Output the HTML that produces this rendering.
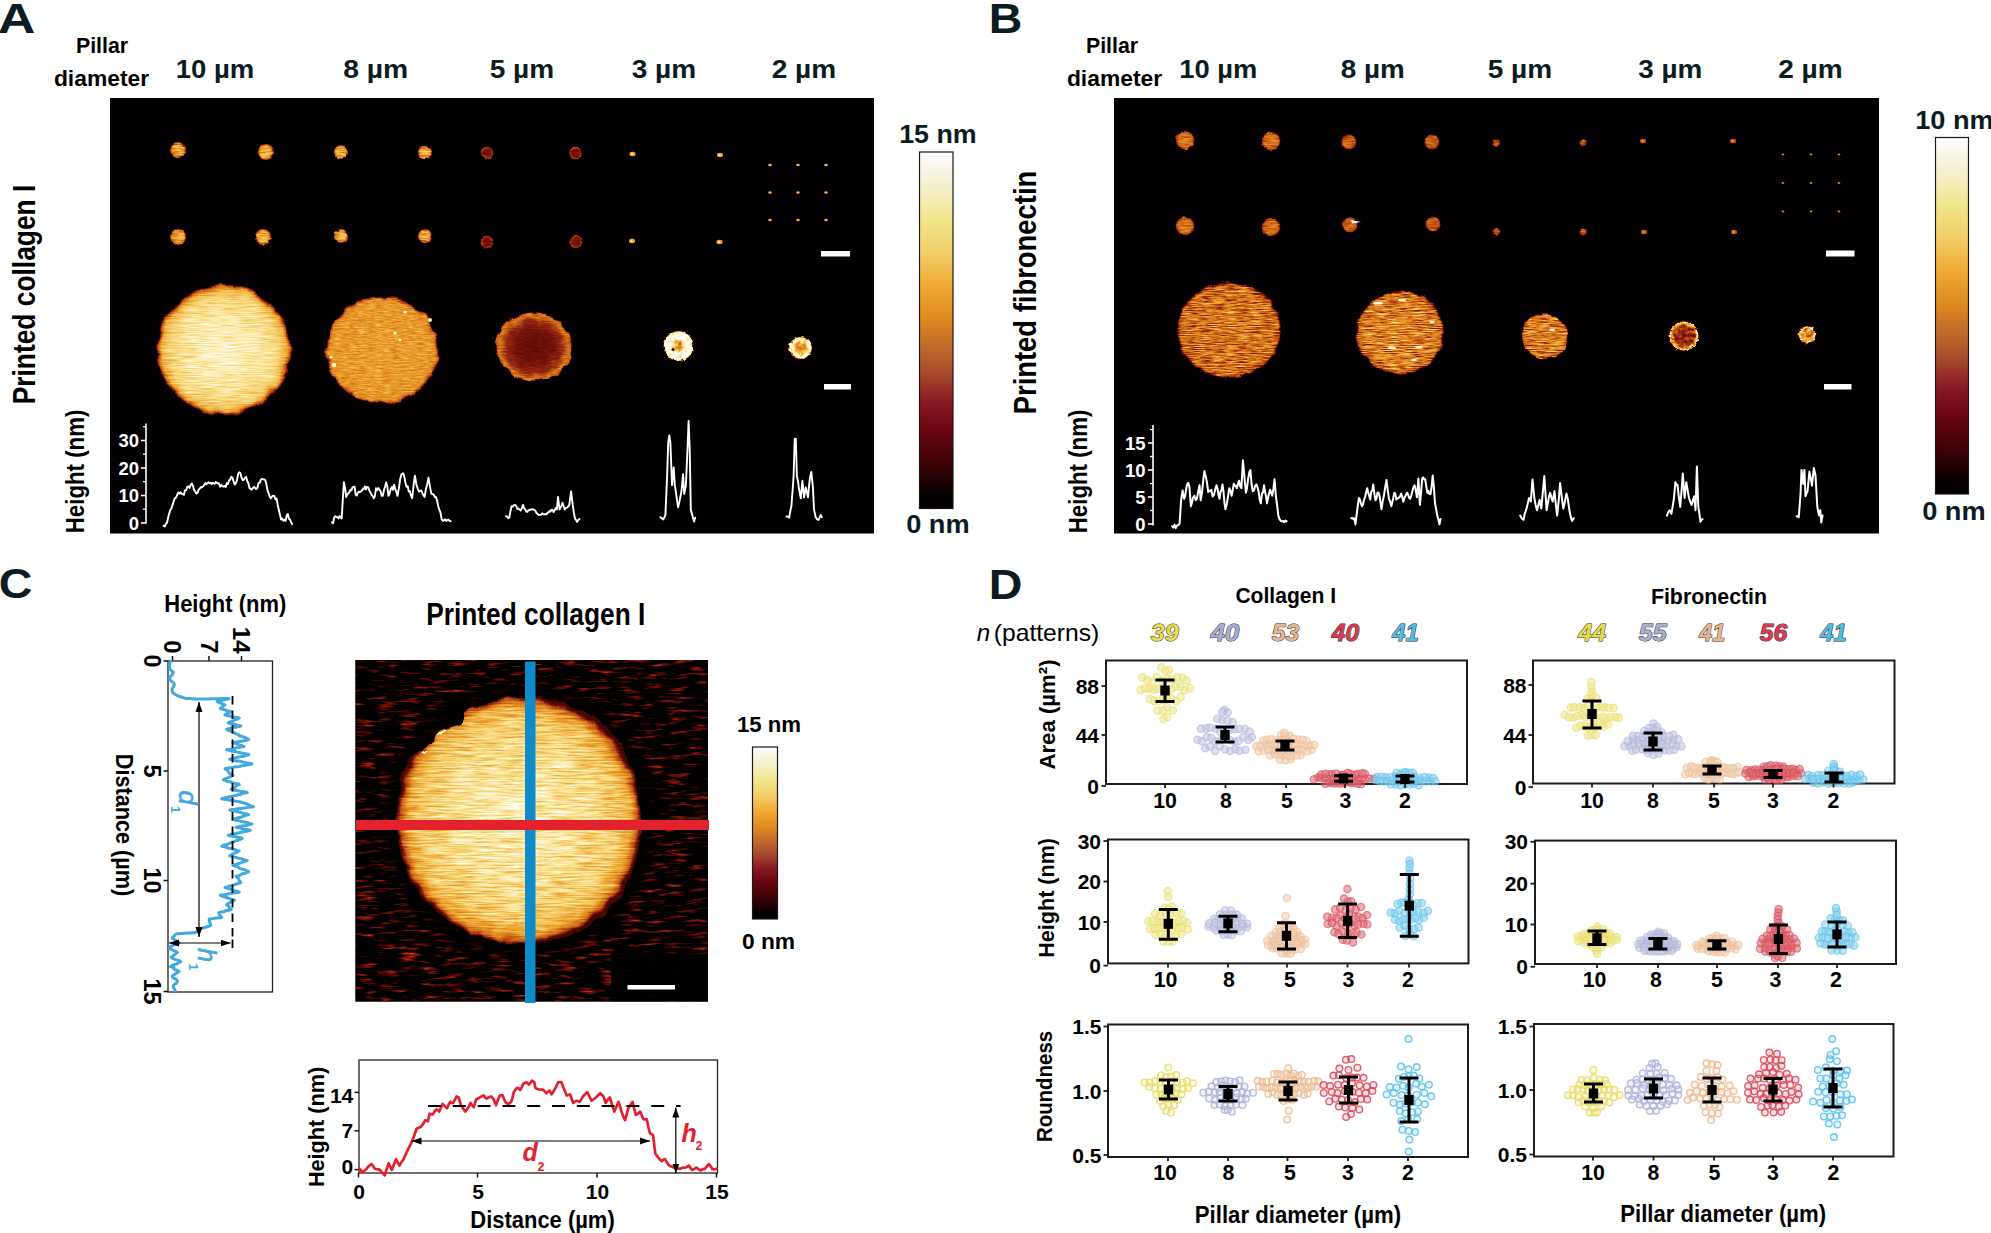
<!DOCTYPE html>
<html lang="en">
<head>
<meta charset="utf-8">
<title>AFM characterisation of printed collagen I and fibronectin patterns</title>
<style>
html,body{margin:0;padding:0;background:#fff;}
body{width:1991px;height:1233px;overflow:hidden;}
svg{display:block;font-family:'Liberation Sans', Arial, Helvetica, sans-serif;}
</style>
</head>
<body>
<svg width="1991" height="1233" viewBox="0 0 1991 1233">
<defs>
<linearGradient id="cmap" x1="0" y1="0" x2="0" y2="1"><stop offset="0" stop-color="#ffffff"/><stop offset="0.05" stop-color="#f8f4e6"/><stop offset="0.12" stop-color="#f5edc0"/><stop offset="0.19" stop-color="#f0e68a"/><stop offset="0.28" stop-color="#f2cf6a"/><stop offset="0.38" stop-color="#f0a830"/><stop offset="0.47" stop-color="#de8820"/><stop offset="0.55" stop-color="#c0682a"/><stop offset="0.62" stop-color="#a84a2c"/><stop offset="0.7" stop-color="#8a1a25"/><stop offset="0.78" stop-color="#6a0512"/><stop offset="0.88" stop-color="#3a0305"/><stop offset="0.96" stop-color="#080000"/><stop offset="1" stop-color="#000000"/></linearGradient>
<filter id="fA" x="-15%" y="-15%" width="130%" height="130%" color-interpolation-filters="sRGB">
<feTurbulence type="fractalNoise" baseFrequency="0.07" numOctaves="2" seed="3" result="dn"/>
<feDisplacementMap in="SourceGraphic" in2="dn" scale="7" xChannelSelector="R" yChannelSelector="G" result="rough"/>
<feTurbulence type="fractalNoise" baseFrequency="0.05 0.9" numOctaves="2" seed="10" result="sn"/>
<feColorMatrix in="sn" type="matrix" values="1.6 0 0 0 -0.3  1.6 0 0 0 -0.3  1.6 0 0 0 -0.3  0 0 0 0 1" result="st"/>
<feComposite in="rough" in2="st" operator="arithmetic" k1="0.3" k2="0.85" k3="0" k4="0" result="tx"/>
<feGaussianBlur in="tx" stdDeviation="0.5"/>
<feComponentTransfer><feFuncR type="table" tableValues="0.000 0.015 0.030 0.098 0.166 0.230 0.280 0.330 0.380 0.429 0.473 0.516 0.560 0.598 0.635 0.673 0.709 0.744 0.780 0.808 0.836 0.864 0.883 0.900 0.917 0.931 0.939 0.947 0.954 0.961 0.967 0.972 0.978 0.982 0.986 0.989 0.993 0.996 1.000 1.000 1.000"/><feFuncG type="table" tableValues="0.000 0.000 0.000 0.007 0.014 0.022 0.032 0.042 0.052 0.064 0.086 0.108 0.130 0.171 0.211 0.252 0.294 0.337 0.380 0.424 0.467 0.511 0.549 0.585 0.621 0.657 0.692 0.727 0.762 0.796 0.823 0.851 0.879 0.901 0.919 0.936 0.949 0.959 0.970 0.985 1.000"/><feFuncB type="table" tableValues="0.000 0.000 0.000 0.004 0.007 0.011 0.016 0.021 0.026 0.032 0.041 0.051 0.060 0.066 0.072 0.079 0.083 0.086 0.090 0.099 0.109 0.118 0.138 0.160 0.182 0.210 0.260 0.310 0.360 0.410 0.460 0.510 0.560 0.614 0.671 0.729 0.780 0.830 0.880 0.940 1.000"/></feComponentTransfer>
</filter>
<filter id="fA8" x="-15%" y="-15%" width="130%" height="130%" color-interpolation-filters="sRGB">
<feTurbulence type="fractalNoise" baseFrequency="0.09" numOctaves="2" seed="4" result="dn"/>
<feDisplacementMap in="SourceGraphic" in2="dn" scale="7" xChannelSelector="R" yChannelSelector="G" result="rough"/>
<feTurbulence type="fractalNoise" baseFrequency="0.12 0.7" numOctaves="3" seed="11" result="sn"/>
<feColorMatrix in="sn" type="matrix" values="1.6 0 0 0 -0.3  1.6 0 0 0 -0.3  1.6 0 0 0 -0.3  0 0 0 0 1" result="st"/>
<feComposite in="rough" in2="st" operator="arithmetic" k1="0.34" k2="0.83" k3="0" k4="0" result="tx"/>
<feGaussianBlur in="tx" stdDeviation="0.5"/>
<feComponentTransfer><feFuncR type="table" tableValues="0.000 0.015 0.030 0.098 0.166 0.230 0.280 0.330 0.380 0.429 0.473 0.516 0.560 0.598 0.635 0.673 0.709 0.744 0.780 0.808 0.836 0.864 0.883 0.900 0.917 0.931 0.939 0.947 0.954 0.961 0.967 0.972 0.978 0.982 0.986 0.989 0.993 0.996 1.000 1.000 1.000"/><feFuncG type="table" tableValues="0.000 0.000 0.000 0.007 0.014 0.022 0.032 0.042 0.052 0.064 0.086 0.108 0.130 0.171 0.211 0.252 0.294 0.337 0.380 0.424 0.467 0.511 0.549 0.585 0.621 0.657 0.692 0.727 0.762 0.796 0.823 0.851 0.879 0.901 0.919 0.936 0.949 0.959 0.970 0.985 1.000"/><feFuncB type="table" tableValues="0.000 0.000 0.000 0.004 0.007 0.011 0.016 0.021 0.026 0.032 0.041 0.051 0.060 0.066 0.072 0.079 0.083 0.086 0.090 0.099 0.109 0.118 0.138 0.160 0.182 0.210 0.260 0.310 0.360 0.410 0.460 0.510 0.560 0.614 0.671 0.729 0.780 0.830 0.880 0.940 1.000"/></feComponentTransfer>
</filter>
<filter id="fB" x="-15%" y="-15%" width="130%" height="130%" color-interpolation-filters="sRGB">
<feTurbulence type="fractalNoise" baseFrequency="0.09" numOctaves="2" seed="11" result="dn"/>
<feDisplacementMap in="SourceGraphic" in2="dn" scale="6" xChannelSelector="R" yChannelSelector="G" result="rough"/>
<feTurbulence type="fractalNoise" baseFrequency="0.08 0.95" numOctaves="3" seed="18" result="sn"/>
<feColorMatrix in="sn" type="matrix" values="1.6 0 0 0 -0.3  1.6 0 0 0 -0.3  1.6 0 0 0 -0.3  0 0 0 0 1" result="st"/>
<feComposite in="rough" in2="st" operator="arithmetic" k1="0.95" k2="0.52" k3="0" k4="0" result="tx"/>
<feGaussianBlur in="tx" stdDeviation="0.4"/>
<feComponentTransfer><feFuncR type="table" tableValues="0.000 0.015 0.030 0.098 0.166 0.230 0.280 0.330 0.380 0.429 0.473 0.516 0.560 0.598 0.635 0.673 0.709 0.744 0.780 0.808 0.836 0.864 0.883 0.900 0.917 0.931 0.939 0.947 0.954 0.961 0.967 0.972 0.978 0.982 0.986 0.989 0.993 0.996 1.000 1.000 1.000"/><feFuncG type="table" tableValues="0.000 0.000 0.000 0.007 0.014 0.022 0.032 0.042 0.052 0.064 0.086 0.108 0.130 0.171 0.211 0.252 0.294 0.337 0.380 0.424 0.467 0.511 0.549 0.585 0.621 0.657 0.692 0.727 0.762 0.796 0.823 0.851 0.879 0.901 0.919 0.936 0.949 0.959 0.970 0.985 1.000"/><feFuncB type="table" tableValues="0.000 0.000 0.000 0.004 0.007 0.011 0.016 0.021 0.026 0.032 0.041 0.051 0.060 0.066 0.072 0.079 0.083 0.086 0.090 0.099 0.109 0.118 0.138 0.160 0.182 0.210 0.260 0.310 0.360 0.410 0.460 0.510 0.560 0.614 0.671 0.729 0.780 0.830 0.880 0.940 1.000"/></feComponentTransfer>
</filter>
<filter id="fS" x="-15%" y="-15%" width="130%" height="130%" color-interpolation-filters="sRGB">
<feTurbulence type="fractalNoise" baseFrequency="0.2" numOctaves="2" seed="5" result="dn"/>
<feDisplacementMap in="SourceGraphic" in2="dn" scale="3" xChannelSelector="R" yChannelSelector="G" result="rough"/>
<feTurbulence type="fractalNoise" baseFrequency="0.1 0.7" numOctaves="2" seed="12" result="sn"/>
<feColorMatrix in="sn" type="matrix" values="1.6 0 0 0 -0.3  1.6 0 0 0 -0.3  1.6 0 0 0 -0.3  0 0 0 0 1" result="st"/>
<feComposite in="rough" in2="st" operator="arithmetic" k1="0.5" k2="0.75" k3="0" k4="0" result="tx"/>
<feGaussianBlur in="tx" stdDeviation="0.45"/>
<feComponentTransfer><feFuncR type="table" tableValues="0.000 0.015 0.030 0.098 0.166 0.230 0.280 0.330 0.380 0.429 0.473 0.516 0.560 0.598 0.635 0.673 0.709 0.744 0.780 0.808 0.836 0.864 0.883 0.900 0.917 0.931 0.939 0.947 0.954 0.961 0.967 0.972 0.978 0.982 0.986 0.989 0.993 0.996 1.000 1.000 1.000"/><feFuncG type="table" tableValues="0.000 0.000 0.000 0.007 0.014 0.022 0.032 0.042 0.052 0.064 0.086 0.108 0.130 0.171 0.211 0.252 0.294 0.337 0.380 0.424 0.467 0.511 0.549 0.585 0.621 0.657 0.692 0.727 0.762 0.796 0.823 0.851 0.879 0.901 0.919 0.936 0.949 0.959 0.970 0.985 1.000"/><feFuncB type="table" tableValues="0.000 0.000 0.000 0.004 0.007 0.011 0.016 0.021 0.026 0.032 0.041 0.051 0.060 0.066 0.072 0.079 0.083 0.086 0.090 0.099 0.109 0.118 0.138 0.160 0.182 0.210 0.260 0.310 0.360 0.410 0.460 0.510 0.560 0.614 0.671 0.729 0.780 0.830 0.880 0.940 1.000"/></feComponentTransfer>
</filter>
<filter id="fI" x="-15%" y="-15%" width="130%" height="130%" color-interpolation-filters="sRGB">
<feTurbulence type="fractalNoise" baseFrequency="0.25" numOctaves="2" seed="8" result="dn"/>
<feDisplacementMap in="SourceGraphic" in2="dn" scale="3.5" xChannelSelector="R" yChannelSelector="G" result="rough"/>
<feTurbulence type="fractalNoise" baseFrequency="0.28 0.32" numOctaves="2" seed="15" result="sn"/>
<feColorMatrix in="sn" type="matrix" values="1.6 0 0 0 -0.3  1.6 0 0 0 -0.3  1.6 0 0 0 -0.3  0 0 0 0 1" result="st"/>
<feComposite in="rough" in2="st" operator="arithmetic" k1="0.85" k2="0.58" k3="0" k4="0" result="tx"/>
<feGaussianBlur in="tx" stdDeviation="0.4"/>
<feComponentTransfer><feFuncR type="table" tableValues="0.000 0.015 0.030 0.098 0.166 0.230 0.280 0.330 0.380 0.429 0.473 0.516 0.560 0.598 0.635 0.673 0.709 0.744 0.780 0.808 0.836 0.864 0.883 0.900 0.917 0.931 0.939 0.947 0.954 0.961 0.967 0.972 0.978 0.982 0.986 0.989 0.993 0.996 1.000 1.000 1.000"/><feFuncG type="table" tableValues="0.000 0.000 0.000 0.007 0.014 0.022 0.032 0.042 0.052 0.064 0.086 0.108 0.130 0.171 0.211 0.252 0.294 0.337 0.380 0.424 0.467 0.511 0.549 0.585 0.621 0.657 0.692 0.727 0.762 0.796 0.823 0.851 0.879 0.901 0.919 0.936 0.949 0.959 0.970 0.985 1.000"/><feFuncB type="table" tableValues="0.000 0.000 0.000 0.004 0.007 0.011 0.016 0.021 0.026 0.032 0.041 0.051 0.060 0.066 0.072 0.079 0.083 0.086 0.090 0.099 0.109 0.118 0.138 0.160 0.182 0.210 0.260 0.310 0.360 0.410 0.460 0.510 0.560 0.614 0.671 0.729 0.780 0.830 0.880 0.940 1.000"/></feComponentTransfer>
</filter>
<filter id="fI2" x="-15%" y="-15%" width="130%" height="130%" color-interpolation-filters="sRGB">
<feTurbulence type="fractalNoise" baseFrequency="0.25" numOctaves="2" seed="9" result="dn"/>
<feDisplacementMap in="SourceGraphic" in2="dn" scale="3.5" xChannelSelector="R" yChannelSelector="G" result="rough"/>
<feTurbulence type="fractalNoise" baseFrequency="0.28 0.32" numOctaves="2" seed="16" result="sn"/>
<feColorMatrix in="sn" type="matrix" values="1.6 0 0 0 -0.3  1.6 0 0 0 -0.3  1.6 0 0 0 -0.3  0 0 0 0 1" result="st"/>
<feComposite in="rough" in2="st" operator="arithmetic" k1="0.45" k2="0.78" k3="0" k4="0" result="tx"/>
<feGaussianBlur in="tx" stdDeviation="0.4"/>
<feComponentTransfer><feFuncR type="table" tableValues="0.000 0.015 0.030 0.098 0.166 0.230 0.280 0.330 0.380 0.429 0.473 0.516 0.560 0.598 0.635 0.673 0.709 0.744 0.780 0.808 0.836 0.864 0.883 0.900 0.917 0.931 0.939 0.947 0.954 0.961 0.967 0.972 0.978 0.982 0.986 0.989 0.993 0.996 1.000 1.000 1.000"/><feFuncG type="table" tableValues="0.000 0.000 0.000 0.007 0.014 0.022 0.032 0.042 0.052 0.064 0.086 0.108 0.130 0.171 0.211 0.252 0.294 0.337 0.380 0.424 0.467 0.511 0.549 0.585 0.621 0.657 0.692 0.727 0.762 0.796 0.823 0.851 0.879 0.901 0.919 0.936 0.949 0.959 0.970 0.985 1.000"/><feFuncB type="table" tableValues="0.000 0.000 0.000 0.004 0.007 0.011 0.016 0.021 0.026 0.032 0.041 0.051 0.060 0.066 0.072 0.079 0.083 0.086 0.090 0.099 0.109 0.118 0.138 0.160 0.182 0.210 0.260 0.310 0.360 0.410 0.460 0.510 0.560 0.614 0.671 0.729 0.780 0.830 0.880 0.940 1.000"/></feComponentTransfer>
</filter>
<filter id="fC" x="-15%" y="-15%" width="130%" height="130%" color-interpolation-filters="sRGB">
<feTurbulence type="fractalNoise" baseFrequency="0.06" numOctaves="2" seed="21" result="dn"/>
<feDisplacementMap in="SourceGraphic" in2="dn" scale="8" xChannelSelector="R" yChannelSelector="G" result="rough"/>
<feTurbulence type="fractalNoise" baseFrequency="0.04 0.6" numOctaves="3" seed="28" result="sn"/>
<feColorMatrix in="sn" type="matrix" values="1.6 0 0 0 -0.3  1.6 0 0 0 -0.3  1.6 0 0 0 -0.3  0 0 0 0 1" result="st"/>
<feComposite in="rough" in2="st" operator="arithmetic" k1="0.42" k2="0.79" k3="0" k4="0" result="tx"/>
<feGaussianBlur in="tx" stdDeviation="0.55"/>
<feComponentTransfer><feFuncR type="table" tableValues="0.000 0.015 0.030 0.098 0.166 0.230 0.280 0.330 0.380 0.429 0.473 0.516 0.560 0.598 0.635 0.673 0.709 0.744 0.780 0.808 0.836 0.864 0.883 0.900 0.917 0.931 0.939 0.947 0.954 0.961 0.967 0.972 0.978 0.982 0.986 0.989 0.993 0.996 1.000 1.000 1.000"/><feFuncG type="table" tableValues="0.000 0.000 0.000 0.007 0.014 0.022 0.032 0.042 0.052 0.064 0.086 0.108 0.130 0.171 0.211 0.252 0.294 0.337 0.380 0.424 0.467 0.511 0.549 0.585 0.621 0.657 0.692 0.727 0.762 0.796 0.823 0.851 0.879 0.901 0.919 0.936 0.949 0.959 0.970 0.985 1.000"/><feFuncB type="table" tableValues="0.000 0.000 0.000 0.004 0.007 0.011 0.016 0.021 0.026 0.032 0.041 0.051 0.060 0.066 0.072 0.079 0.083 0.086 0.090 0.099 0.109 0.118 0.138 0.160 0.182 0.210 0.260 0.310 0.360 0.410 0.460 0.510 0.560 0.614 0.671 0.729 0.780 0.830 0.880 0.940 1.000"/></feComponentTransfer>
</filter>
<filter id="bgC" x="0" y="0" width="100%" height="100%" color-interpolation-filters="sRGB">
<feTurbulence type="fractalNoise" baseFrequency="0.045 0.3" numOctaves="3" seed="9" result="n"/>
<feColorMatrix in="n" type="matrix" values="1.05 0 0 0 -0.525  1.05 0 0 0 -0.525  1.05 0 0 0 -0.525  0 0 0 0 1"/>
<feComponentTransfer><feFuncR type="table" tableValues="0.000 0.015 0.030 0.098 0.166 0.230 0.280 0.330 0.380 0.429 0.473 0.516 0.560 0.598 0.635 0.673 0.709 0.744 0.780 0.808 0.836 0.864 0.883 0.900 0.917 0.931 0.939 0.947 0.954 0.961 0.967 0.972 0.978 0.982 0.986 0.989 0.993 0.996 1.000 1.000 1.000"/><feFuncG type="table" tableValues="0.000 0.000 0.000 0.007 0.014 0.022 0.032 0.042 0.052 0.064 0.086 0.108 0.130 0.171 0.211 0.252 0.294 0.337 0.380 0.424 0.467 0.511 0.549 0.585 0.621 0.657 0.692 0.727 0.762 0.796 0.823 0.851 0.879 0.901 0.919 0.936 0.949 0.959 0.970 0.985 1.000"/><feFuncB type="table" tableValues="0.000 0.000 0.000 0.004 0.007 0.011 0.016 0.021 0.026 0.032 0.041 0.051 0.060 0.066 0.072 0.079 0.083 0.086 0.090 0.099 0.109 0.118 0.138 0.160 0.182 0.210 0.260 0.310 0.360 0.410 0.460 0.510 0.560 0.614 0.671 0.729 0.780 0.830 0.880 0.940 1.000"/></feComponentTransfer>
</filter>
<filter id="halo" x="-20%" y="-20%" width="140%" height="140%"><feGaussianBlur stdDeviation="5"/></filter>
<filter id="b1" x="-30%" y="-30%" width="160%" height="160%"><feGaussianBlur stdDeviation="0.7"/></filter>
<filter id="b3" x="-30%" y="-30%" width="160%" height="160%"><feGaussianBlur stdDeviation="2.5"/></filter>
<radialGradient id="gA10" cx="50%" cy="50%" r="50%"><stop offset="0" stop-color="#e6e6e6"/><stop offset="0.3" stop-color="#dedede"/><stop offset="0.6" stop-color="#d1d1d1"/><stop offset="0.82" stop-color="#bfbfbf"/><stop offset="0.92" stop-color="#a6a6a6"/><stop offset="0.97" stop-color="#6b6b6b"/><stop offset="1" stop-color="#262626"/></radialGradient>
<radialGradient id="gA8" cx="50%" cy="50%" r="50%"><stop offset="0" stop-color="#999999"/><stop offset="0.8" stop-color="#969696"/><stop offset="0.93" stop-color="#919191"/><stop offset="0.975" stop-color="#6b6b6b"/><stop offset="1" stop-color="#262626"/></radialGradient>
<radialGradient id="gA5" cx="50%" cy="50%" r="50%"><stop offset="0" stop-color="#333333"/><stop offset="0.5" stop-color="#3d3d3d"/><stop offset="0.75" stop-color="#525252"/><stop offset="0.9" stop-color="#808080"/><stop offset="0.97" stop-color="#757575"/><stop offset="1" stop-color="#262626"/></radialGradient>
<radialGradient id="gA3" cx="50%" cy="50%" r="50%"><stop offset="0" stop-color="#8c8c8c"/><stop offset="0.28" stop-color="#a8a8a8"/><stop offset="0.5" stop-color="#ededed"/><stop offset="0.85" stop-color="#ffffff"/><stop offset="0.95" stop-color="#d9d9d9"/><stop offset="1" stop-color="#666666"/></radialGradient>
<radialGradient id="gA2" cx="50%" cy="50%" r="50%"><stop offset="0" stop-color="#8c8c8c"/><stop offset="0.4" stop-color="#999999"/><stop offset="0.68" stop-color="#dbdbdb"/><stop offset="0.9" stop-color="#ededed"/><stop offset="1" stop-color="#737373"/></radialGradient>
<radialGradient id="gB" cx="50%" cy="50%" r="50%"><stop offset="0" stop-color="#808080"/><stop offset="0.85" stop-color="#7d7d7d"/><stop offset="0.95" stop-color="#737373"/><stop offset="1" stop-color="#262626"/></radialGradient>
<radialGradient id="gB8" cx="50%" cy="50%" r="50%"><stop offset="0" stop-color="#878787"/><stop offset="0.85" stop-color="#858585"/><stop offset="0.95" stop-color="#787878"/><stop offset="1" stop-color="#262626"/></radialGradient>
<radialGradient id="gB3" cx="50%" cy="50%" r="50%"><stop offset="0" stop-color="#4c4c4c"/><stop offset="0.7" stop-color="#575757"/><stop offset="0.88" stop-color="#a8a8a8"/><stop offset="0.96" stop-color="#d9d9d9"/><stop offset="1" stop-color="#4c4c4c"/></radialGradient>
<radialGradient id="gB2" cx="50%" cy="50%" r="50%"><stop offset="0" stop-color="#808080"/><stop offset="0.65" stop-color="#949494"/><stop offset="0.9" stop-color="#bdbdbd"/><stop offset="1" stop-color="#4c4c4c"/></radialGradient>
<radialGradient id="gC" cx="50%" cy="50%" r="50%"><stop offset="0" stop-color="#e0e0e0"/><stop offset="0.3" stop-color="#d6d6d6"/><stop offset="0.6" stop-color="#c7c7c7"/><stop offset="0.82" stop-color="#b8b8b8"/><stop offset="0.92" stop-color="#9e9e9e"/><stop offset="0.97" stop-color="#707070"/><stop offset="1" stop-color="#262626"/></radialGradient>
<radialGradient id="gdot" cx="50%" cy="50%" r="50%"><stop offset="0" stop-color="#adadad"/><stop offset="0.7" stop-color="#999999"/><stop offset="1" stop-color="#616161"/></radialGradient>
<radialGradient id="gdotB" cx="50%" cy="50%" r="50%"><stop offset="0" stop-color="#808080"/><stop offset="0.75" stop-color="#7a7a7a"/><stop offset="1" stop-color="#4c4c4c"/></radialGradient>
<radialGradient id="gdotB5" cx="50%" cy="50%" r="50%"><stop offset="0" stop-color="#757575"/><stop offset="0.7" stop-color="#6b6b6b"/><stop offset="1" stop-color="#474747"/></radialGradient>
<radialGradient id="gdotB8" cx="50%" cy="50%" r="50%"><stop offset="0" stop-color="#757575"/><stop offset="0.75" stop-color="#707070"/><stop offset="1" stop-color="#474747"/></radialGradient>
<radialGradient id="gdotR" cx="50%" cy="50%" r="50%"><stop offset="0" stop-color="#383838"/><stop offset="0.6" stop-color="#3d3d3d"/><stop offset="0.85" stop-color="#5c5c5c"/><stop offset="1" stop-color="#333333"/></radialGradient>
<marker id="ah" viewBox="0 0 10 8" refX="10" refY="4" markerWidth="10" markerHeight="8" markerUnits="userSpaceOnUse" orient="auto-start-reverse"><path d="M0 0.5 L10 4 L0 7.5z" fill="#000"/></marker>
</defs>
<rect width="1991" height="1233" fill="#fff"/>
<g id="panelA">
<rect x="110" y="98" width="764" height="435.5" fill="#020002"/>
<text x="75.9" y="53" font-size="22.5" font-weight="bold" fill="#000" textLength="52.2" lengthAdjust="spacingAndGlyphs" >Pillar</text>
<text x="53.9" y="86" font-size="22.5" font-weight="bold" fill="#000" textLength="95.2" lengthAdjust="spacingAndGlyphs" >diameter</text>
<text x="175.7" y="77.5" font-size="25.5" font-weight="bold" fill="#0b1c22" textLength="78.5" lengthAdjust="spacingAndGlyphs" >10 µm</text>
<text x="343.2" y="77.5" font-size="25.5" font-weight="bold" fill="#0b1c22" textLength="65.0" lengthAdjust="spacingAndGlyphs" >8 µm</text>
<text x="489.7" y="77.5" font-size="25.5" font-weight="bold" fill="#0b1c22" textLength="64.5" lengthAdjust="spacingAndGlyphs" >5 µm</text>
<text x="631.7" y="77.5" font-size="25.5" font-weight="bold" fill="#0b1c22" textLength="64.5" lengthAdjust="spacingAndGlyphs" >3 µm</text>
<text x="771.7" y="77.5" font-size="25.5" font-weight="bold" fill="#0b1c22" textLength="64.5" lengthAdjust="spacingAndGlyphs" >2 µm</text>
<text x="-1.3" font-size="32" font-weight="bold" fill="#000" textLength="219.6" lengthAdjust="spacingAndGlyphs" transform="translate(35,403) rotate(-90)" >Printed collagen I</text>
<text x="-1.2" font-size="25" font-weight="bold" fill="#000" textLength="123.5" lengthAdjust="spacingAndGlyphs" transform="translate(84,532) rotate(-90)" >Height (nm)</text>
<text x="899.2" y="143" font-size="25.5" font-weight="bold" fill="#0b1c22" textLength="77.5" lengthAdjust="spacingAndGlyphs" >15 nm</text>
<rect x="919.5" y="152" width="33.5" height="356.5" fill="url(#cmap)" stroke="#1a1a1a" stroke-width="1.2"/>
<text x="906.2" y="533" font-size="25.5" font-weight="bold" fill="#0b1c22" textLength="63.5" lengthAdjust="spacingAndGlyphs" >0 nm</text>
<circle cx="178" cy="150" r="8" fill="url(#gdot)" filter="url(#fS)"/>
<circle cx="266" cy="152" r="8" fill="url(#gdot)" filter="url(#fS)"/>
<circle cx="178" cy="237" r="8" fill="url(#gdot)" filter="url(#fS)"/>
<circle cx="263" cy="237" r="8" fill="url(#gdot)" filter="url(#fS)"/>
<circle cx="341" cy="152" r="7" fill="url(#gdot)" filter="url(#fS)"/>
<circle cx="425" cy="152.5" r="7" fill="url(#gdot)" filter="url(#fS)"/>
<circle cx="341" cy="236" r="7" fill="url(#gdot)" filter="url(#fS)"/>
<circle cx="425" cy="236" r="7" fill="url(#gdot)" filter="url(#fS)"/>
<circle cx="487" cy="153" r="6.5" fill="url(#gdotR)" filter="url(#fS)"/>
<circle cx="575.5" cy="153" r="6.5" fill="url(#gdotR)" filter="url(#fS)"/>
<circle cx="487" cy="242" r="6.5" fill="url(#gdotR)" filter="url(#fS)"/>
<circle cx="576" cy="242" r="6.5" fill="url(#gdotR)" filter="url(#fS)"/>
<ellipse cx="632.5" cy="154" rx="3.08" ry="2.2" fill="#f0a030" filter="url(#b1)"/>
<circle cx="632.0" cy="154" r="0.9900000000000001" fill="#fff0b0"/>
<ellipse cx="720" cy="155" rx="3.08" ry="2.2" fill="#f0a030" filter="url(#b1)"/>
<circle cx="719.5" cy="155" r="0.9900000000000001" fill="#fff0b0"/>
<ellipse cx="632" cy="241" rx="3.08" ry="2.2" fill="#f0a030" filter="url(#b1)"/>
<circle cx="631.5" cy="241" r="0.9900000000000001" fill="#fff0b0"/>
<ellipse cx="719.5" cy="242" rx="3.08" ry="2.2" fill="#f0a030" filter="url(#b1)"/>
<circle cx="719.0" cy="242" r="0.9900000000000001" fill="#fff0b0"/>
<ellipse cx="770" cy="165" rx="1.8199999999999998" ry="1.3" fill="#f0a030" filter="url(#b1)"/>
<circle cx="769.5" cy="165" r="0.5850000000000001" fill="#fff0b0"/>
<ellipse cx="770" cy="192.5" rx="1.8199999999999998" ry="1.3" fill="#f0a030" filter="url(#b1)"/>
<circle cx="769.5" cy="192.5" r="0.5850000000000001" fill="#fff0b0"/>
<ellipse cx="770" cy="220" rx="1.8199999999999998" ry="1.3" fill="#f0a030" filter="url(#b1)"/>
<circle cx="769.5" cy="220" r="0.5850000000000001" fill="#fff0b0"/>
<ellipse cx="798" cy="165" rx="1.8199999999999998" ry="1.3" fill="#f0a030" filter="url(#b1)"/>
<circle cx="797.5" cy="165" r="0.5850000000000001" fill="#fff0b0"/>
<ellipse cx="798" cy="192.5" rx="1.8199999999999998" ry="1.3" fill="#f0a030" filter="url(#b1)"/>
<circle cx="797.5" cy="192.5" r="0.5850000000000001" fill="#fff0b0"/>
<ellipse cx="798" cy="220" rx="1.8199999999999998" ry="1.3" fill="#f0a030" filter="url(#b1)"/>
<circle cx="797.5" cy="220" r="0.5850000000000001" fill="#fff0b0"/>
<ellipse cx="826" cy="165" rx="1.8199999999999998" ry="1.3" fill="#f0a030" filter="url(#b1)"/>
<circle cx="825.5" cy="165" r="0.5850000000000001" fill="#fff0b0"/>
<ellipse cx="826" cy="192.5" rx="1.8199999999999998" ry="1.3" fill="#f0a030" filter="url(#b1)"/>
<circle cx="825.5" cy="192.5" r="0.5850000000000001" fill="#fff0b0"/>
<ellipse cx="826" cy="220" rx="1.8199999999999998" ry="1.3" fill="#f0a030" filter="url(#b1)"/>
<circle cx="825.5" cy="220" r="0.5850000000000001" fill="#fff0b0"/>
<rect x="821" y="251" width="29" height="5.5" fill="#fff"/>
<ellipse cx="224" cy="350" rx="67" ry="65.5" fill="url(#gA10)" filter="url(#fA)"/>
<ellipse cx="382" cy="350" rx="56.5" ry="54" fill="url(#gA8)" filter="url(#fA8)"/>
<ellipse cx="534" cy="347" rx="38" ry="35" fill="url(#gA5)" filter="url(#fA8)"/>
<ellipse cx="678.5" cy="346" rx="15" ry="15" fill="url(#gA3)" filter="url(#fI2)"/>
<circle cx="673" cy="349.5" r="1.5" fill="#3a0800"/><circle cx="680" cy="344" r="1.2" fill="#a8501a"/>
<ellipse cx="800.5" cy="348" rx="11.5" ry="11" fill="url(#gA2)" filter="url(#fI2)"/>
<circle cx="334" cy="365" r="2.2" fill="#fff3c8" filter="url(#b1)"/>
<circle cx="331" cy="357" r="1.6" fill="#fff3c8" filter="url(#b1)"/>
<circle cx="430" cy="320" r="2" fill="#fff3c8" filter="url(#b1)"/>
<circle cx="405" cy="312" r="1.6" fill="#fff3c8" filter="url(#b1)"/>
<circle cx="395" cy="333" r="1.8" fill="#fff3c8" filter="url(#b1)"/>
<circle cx="400" cy="340" r="1.4" fill="#fff3c8" filter="url(#b1)"/>
<rect x="824" y="384" width="27" height="5.5" fill="#fff"/>
<path d="M146 423.5V523.5" stroke="#fff" stroke-width="1.6" fill="none"/>
<path d="M141 440.5H146" stroke="#fff" stroke-width="1.6"/>
<text x="139.0" y="447.0" font-size="18.5" font-weight="bold" fill="#fff" text-anchor="end" >30</text>
<path d="M141 468H146" stroke="#fff" stroke-width="1.6"/>
<text x="139.0" y="474.5" font-size="18.5" font-weight="bold" fill="#fff" text-anchor="end" >20</text>
<path d="M141 495.5H146" stroke="#fff" stroke-width="1.6"/>
<text x="139.0" y="502.0" font-size="18.5" font-weight="bold" fill="#fff" text-anchor="end" >10</text>
<path d="M141 523H146" stroke="#fff" stroke-width="1.6"/>
<text x="139.0" y="529.5" font-size="18.5" font-weight="bold" fill="#fff" text-anchor="end" >0</text>
<path d="M143 426.7H146" stroke="#fff" stroke-width="1.3"/>
<path d="M143 454.2H146" stroke="#fff" stroke-width="1.3"/>
<path d="M143 481.7H146" stroke="#fff" stroke-width="1.3"/>
<path d="M143 509.2H146" stroke="#fff" stroke-width="1.3"/>
<path d="M163.6 525.7 L164.7 526.5 L165.8 524.2 L167.0 522.7 L168.1 517.8 L169.2 513.6 L170.3 510.0 L171.5 508.2 L172.6 504.9 L173.7 501.2 L174.9 498.2 L176.0 497.7 L177.1 495.2 L178.3 492.5 L179.4 493.6 L180.5 492.3 L181.6 493.9 L182.8 494.2 L183.9 494.8 L185.0 490.3 L186.2 490.1 L187.3 486.9 L188.4 486.4 L189.6 488.0 L190.7 484.6 L191.8 483.5 L192.9 485.8 L194.1 490.0 L195.2 491.3 L196.3 493.6 L197.5 493.0 L198.6 489.8 L199.7 488.8 L200.9 486.9 L202.0 487.4 L203.1 486.4 L204.2 485.1 L205.4 483.0 L206.5 484.2 L207.6 483.1 L208.8 482.3 L209.8 483.3 L210.8 482.8 L211.8 484.0 L212.8 482.8 L213.8 483.2 L214.8 483.9 L215.8 481.9 L216.8 482.9 L217.8 483.5 L218.9 483.3 L220.1 486.8 L221.2 484.8 L222.3 486.2 L223.5 486.6 L224.6 486.0 L225.7 486.9 L226.9 483.0 L228.0 483.9 L229.1 480.3 L230.2 479.6 L231.4 476.7 L232.5 477.8 L233.6 481.4 L234.8 484.6 L235.9 483.0 L237.0 480.1 L238.2 473.7 L239.3 472.2 L240.4 473.2 L241.5 477.4 L242.7 480.1 L243.8 479.8 L244.9 478.0 L246.1 476.7 L247.2 480.8 L248.3 483.0 L249.5 488.0 L250.6 488.9 L251.7 489.7 L252.8 488.0 L254.0 487.0 L255.1 488.0 L256.2 489.1 L257.4 488.0 L258.5 483.0 L259.6 482.9 L260.8 479.8 L261.9 478.9 L263.0 479.2 L264.2 479.4 L265.3 480.1 L266.4 484.3 L267.5 490.4 L268.7 493.3 L269.8 497.0 L270.9 498.3 L272.1 496.3 L273.2 495.6 L274.3 495.9 L275.5 499.4 L276.6 498.5 L277.7 504.9 L278.8 509.8 L280.0 514.9 L281.1 519.6 L282.2 518.4 L283.4 520.8 L284.5 519.8 L285.6 520.8 L286.8 515.1 L287.8 514.0 L288.8 518.5 L289.9 519.4 L290.9 521.7 L292.0 524.2" fill="none" stroke="#fff" stroke-width="1.9" stroke-linejoin="round" stroke-linecap="round"/>
<path d="M332.0 522.3 L333.1 523.3 L334.2 517.4 L335.4 516.2 L336.4 517.1 L337.5 517.2 L338.5 518.5 L339.6 515.9 L340.6 517.6 L341.7 518.5 L342.8 499.4 L343.9 482.3 L345.1 488.3 L346.2 497.0 L347.2 494.5 L348.3 493.5 L349.3 492.3 L350.3 490.0 L351.4 490.3 L352.4 487.6 L353.4 486.9 L354.6 486.7 L355.7 494.8 L356.7 495.6 L357.8 492.8 L358.8 491.6 L359.8 492.2 L360.8 491.5 L361.9 490.5 L362.9 488.6 L363.9 489.3 L364.9 486.3 L366.0 489.4 L367.0 486.9 L368.1 487.1 L369.3 490.4 L370.4 492.5 L371.5 494.7 L372.6 496.0 L373.8 498.2 L374.9 496.2 L376.0 488.3 L377.2 490.2 L378.3 488.0 L379.4 489.6 L380.6 491.2 L381.7 495.7 L382.8 495.9 L384.0 489.9 L385.1 486.6 L386.2 482.3 L387.3 486.3 L388.5 495.9 L389.6 493.8 L390.7 489.1 L391.9 486.9 L393.0 489.8 L394.1 484.6 L395.3 489.1 L396.4 491.9 L397.5 495.9 L398.8 488.8 L400.1 479.5 L401.4 474.4 L403.2 473.3 L404.3 476.3 L405.4 482.7 L406.6 486.9 L407.7 486.2 L408.8 491.6 L409.9 491.2 L411.1 495.9 L412.2 498.2 L413.6 485.2 L414.9 475.6 L416.4 484.5 L417.9 489.1 L419.0 491.6 L420.1 490.9 L421.2 490.4 L422.4 493.2 L423.5 495.5 L424.6 497.0 L425.9 489.1 L427.2 484.4 L428.5 477.8 L430.0 486.9 L431.4 493.6 L432.5 494.2 L433.7 494.6 L434.8 497.0 L435.9 497.0 L437.1 500.6 L438.2 506.3 L439.3 509.5 L440.5 512.6 L441.6 519.0 L442.7 520.8 L443.9 520.3 L445.0 519.3 L446.1 520.9 L447.2 520.0 L448.4 519.7 L449.5 520.8 L450.6 521.2" fill="none" stroke="#fff" stroke-width="1.9" stroke-linejoin="round" stroke-linecap="round"/>
<path d="M506.0 516.2 L507.1 516.7 L508.3 518.1 L509.4 517.4 L510.5 510.9 L511.7 506.1 L512.8 506.6 L513.9 505.1 L515.1 504.9 L516.2 505.8 L517.3 508.9 L518.4 508.5 L519.6 509.4 L520.7 510.6 L521.8 508.4 L523.0 504.9 L524.1 508.2 L525.2 509.4 L526.4 511.7 L527.5 511.8 L528.6 509.9 L529.7 510.0 L530.9 509.5 L532.0 509.5 L533.1 509.2 L534.3 510.0 L535.4 510.8 L536.5 513.0 L537.7 514.0 L538.8 515.1 L539.9 514.6 L541.0 514.8 L542.2 513.3 L543.3 514.3 L544.4 514.4 L545.6 514.0 L546.6 514.3 L547.6 512.5 L548.6 512.5 L549.6 510.7 L550.6 511.6 L551.6 509.7 L552.6 510.1 L553.6 512.0 L554.6 510.6 L555.7 508.0 L556.9 509.5 L558.0 497.0 L559.6 509.5 L561.1 506.8 L562.5 502.7 L563.7 506.4 L564.8 509.5 L565.9 508.0 L567.0 507.6 L568.2 506.5 L569.3 504.9 L571.1 491.4 L572.7 504.9 L573.8 512.7 L575.0 518.5 L576.1 520.0 L577.2 521.9 L578.3 519.9 L579.5 519.0" fill="none" stroke="#fff" stroke-width="1.9" stroke-linejoin="round" stroke-linecap="round"/>
<path d="M660.4 517.2 L661.8 518.3 L663.2 519.4 L664.3 517.5 L665.4 515.0 L667.1 476.3 L668.2 443.1 L669.3 435.4 L670.4 443.1 L672.0 485.1 L673.7 467.5 L674.8 485.1 L675.9 492.2 L677.0 500.1 L678.1 507.2 L679.2 502.6 L680.3 497.2 L681.4 491.8 L683.1 474.1 L684.2 494.0 L685.9 485.1 L687.5 448.7 L688.6 421.0 L689.7 448.7 L690.8 509.4 L692.5 516.1 L694.1 521.6 L695.2 517.7" fill="none" stroke="#fff" stroke-width="1.9" stroke-linejoin="round" stroke-linecap="round"/>
<path d="M786.4 516.6 L787.8 516.4 L789.2 517.7 L790.3 511.1 L791.4 506.1 L792.5 491.7 L793.6 476.3 L794.7 438.7 L795.8 438.7 L796.9 476.3 L798.0 481.3 L799.1 489.6 L800.8 498.4 L802.4 480.7 L804.1 497.3 L805.7 487.3 L806.9 492.2 L808.0 497.3 L809.1 485.2 L810.2 476.3 L811.3 471.9 L812.9 487.3 L814.0 509.4 L815.7 517.2 L817.1 519.3 L818.5 519.9 L819.6 517.6 L820.7 515.0 L821.8 517.2" fill="none" stroke="#fff" stroke-width="1.9" stroke-linejoin="round" stroke-linecap="round"/>
</g>
<g id="panelB">
<rect x="1114" y="98" width="765" height="435.5" fill="#020002"/>
<text x="1085.9" y="53" font-size="22.5" font-weight="bold" fill="#000" textLength="52.2" lengthAdjust="spacingAndGlyphs" >Pillar</text>
<text x="1066.9" y="86" font-size="22.5" font-weight="bold" fill="#000" textLength="95.2" lengthAdjust="spacingAndGlyphs" >diameter</text>
<text x="1179.2" y="77.5" font-size="25.5" font-weight="bold" fill="#0b1c22" textLength="78.0" lengthAdjust="spacingAndGlyphs" >10 µm</text>
<text x="1340.7" y="77.5" font-size="25.5" font-weight="bold" fill="#0b1c22" textLength="64.0" lengthAdjust="spacingAndGlyphs" >8 µm</text>
<text x="1487.7" y="77.5" font-size="25.5" font-weight="bold" fill="#0b1c22" textLength="64.5" lengthAdjust="spacingAndGlyphs" >5 µm</text>
<text x="1638.2" y="77.5" font-size="25.5" font-weight="bold" fill="#0b1c22" textLength="64.0" lengthAdjust="spacingAndGlyphs" >3 µm</text>
<text x="1778.2" y="77.5" font-size="25.5" font-weight="bold" fill="#0b1c22" textLength="64.5" lengthAdjust="spacingAndGlyphs" >2 µm</text>
<text x="-1.3" font-size="32" font-weight="bold" fill="#000" textLength="243.6" lengthAdjust="spacingAndGlyphs" transform="translate(1036,413) rotate(-90)" >Printed fibronectin</text>
<text x="-1.2" font-size="25" font-weight="bold" fill="#000" textLength="123.5" lengthAdjust="spacingAndGlyphs" transform="translate(1087,532) rotate(-90)" >Height (nm)</text>
<text x="1915.2" y="129" font-size="25.5" font-weight="bold" fill="#0b1c22" textLength="78.5" lengthAdjust="spacingAndGlyphs" >10 nm</text>
<rect x="1935.5" y="137.5" width="33.0" height="356.5" fill="url(#cmap)" stroke="#1a1a1a" stroke-width="1.2"/>
<text x="1922.2" y="520" font-size="25.5" font-weight="bold" fill="#0b1c22" textLength="63.5" lengthAdjust="spacingAndGlyphs" >0 nm</text>
<circle cx="1185" cy="140" r="9.3" fill="url(#gdotB)" filter="url(#fS)"/>
<circle cx="1271" cy="141" r="9.3" fill="url(#gdotB)" filter="url(#fS)"/>
<circle cx="1185" cy="226" r="9.3" fill="url(#gdotB)" filter="url(#fS)"/>
<circle cx="1271" cy="227" r="9.3" fill="url(#gdotB)" filter="url(#fS)"/>
<circle cx="1349" cy="142" r="7.6" fill="url(#gdotB8)" filter="url(#fS)"/>
<circle cx="1432" cy="142" r="7.6" fill="url(#gdotB8)" filter="url(#fS)"/>
<circle cx="1350" cy="225" r="7.6" fill="url(#gdotB8)" filter="url(#fS)"/>
<circle cx="1433" cy="224" r="7.6" fill="url(#gdotB8)" filter="url(#fS)"/>
<circle cx="1496.5" cy="142.5" r="3.6" fill="url(#gdotB5)" filter="url(#fS)"/>
<circle cx="1583" cy="142.5" r="3.6" fill="url(#gdotB5)" filter="url(#fS)"/>
<circle cx="1496.5" cy="231.5" r="3.6" fill="url(#gdotB5)" filter="url(#fS)"/>
<circle cx="1583" cy="232" r="3.6" fill="url(#gdotB5)" filter="url(#fS)"/>
<path d="M1351 220l10 2l-9 1.5z" fill="#fff" filter="url(#b1)"/>
<ellipse cx="1643" cy="141" rx="3.08" ry="2.2" fill="#c8501a" filter="url(#b1)"/>
<circle cx="1642.5" cy="141" r="0.9900000000000001" fill="#f0b050"/>
<ellipse cx="1733" cy="141" rx="3.08" ry="2.2" fill="#c8501a" filter="url(#b1)"/>
<circle cx="1732.5" cy="141" r="0.9900000000000001" fill="#f0b050"/>
<ellipse cx="1644" cy="232" rx="3.08" ry="2.2" fill="#c8501a" filter="url(#b1)"/>
<circle cx="1643.5" cy="232" r="0.9900000000000001" fill="#f0b050"/>
<ellipse cx="1734" cy="232" rx="3.08" ry="2.2" fill="#c8501a" filter="url(#b1)"/>
<circle cx="1733.5" cy="232" r="0.9900000000000001" fill="#f0b050"/>
<ellipse cx="1783" cy="154.5" rx="1.4" ry="1.0" fill="#d86a1a" filter="url(#b1)"/>
<circle cx="1782.5" cy="154.5" r="0.45" fill="#f8d080"/>
<ellipse cx="1783" cy="183" rx="1.4" ry="1.0" fill="#d86a1a" filter="url(#b1)"/>
<circle cx="1782.5" cy="183" r="0.45" fill="#f8d080"/>
<ellipse cx="1783" cy="211.5" rx="1.4" ry="1.0" fill="#d86a1a" filter="url(#b1)"/>
<circle cx="1782.5" cy="211.5" r="0.45" fill="#f8d080"/>
<ellipse cx="1811" cy="154.5" rx="1.4" ry="1.0" fill="#d86a1a" filter="url(#b1)"/>
<circle cx="1810.5" cy="154.5" r="0.45" fill="#f8d080"/>
<ellipse cx="1811" cy="183" rx="1.4" ry="1.0" fill="#d86a1a" filter="url(#b1)"/>
<circle cx="1810.5" cy="183" r="0.45" fill="#f8d080"/>
<ellipse cx="1811" cy="211.5" rx="1.4" ry="1.0" fill="#d86a1a" filter="url(#b1)"/>
<circle cx="1810.5" cy="211.5" r="0.45" fill="#f8d080"/>
<ellipse cx="1839" cy="154.5" rx="1.4" ry="1.0" fill="#d86a1a" filter="url(#b1)"/>
<circle cx="1838.5" cy="154.5" r="0.45" fill="#f8d080"/>
<ellipse cx="1839" cy="183" rx="1.4" ry="1.0" fill="#d86a1a" filter="url(#b1)"/>
<circle cx="1838.5" cy="183" r="0.45" fill="#f8d080"/>
<ellipse cx="1839" cy="211.5" rx="1.4" ry="1.0" fill="#d86a1a" filter="url(#b1)"/>
<circle cx="1838.5" cy="211.5" r="0.45" fill="#f8d080"/>
<rect x="1826" y="250.5" width="28.5" height="6" fill="#fff"/>
<ellipse cx="1229" cy="330" rx="52" ry="48" fill="url(#gB)" filter="url(#fB)"/>
<ellipse cx="1400" cy="332.5" rx="44" ry="41.5" fill="url(#gB8)" filter="url(#fB)"/>
<ellipse cx="1545" cy="336" rx="23.5" ry="23" fill="url(#gB8)" filter="url(#fB)"/>
<ellipse cx="1684" cy="336" rx="14.7" ry="14.7" fill="url(#gB3)" filter="url(#fI)"/>
<ellipse cx="1807" cy="335" rx="8.7" ry="8.9" fill="url(#gB2)" filter="url(#fI)"/>
<path d="M1810 328l3.5 -1.5l-0.5 4z" fill="#fff6dc"/>
<ellipse cx="1378" cy="303" rx="5" ry="1.6" fill="#fff6dc" filter="url(#b1)"/>
<ellipse cx="1402" cy="300" rx="4" ry="1.3" fill="#fff6dc" filter="url(#b1)"/>
<ellipse cx="1392" cy="348" rx="4" ry="1.4" fill="#fff6dc" filter="url(#b1)"/>
<ellipse cx="1419" cy="347" rx="3.5" ry="1.3" fill="#fff6dc" filter="url(#b1)"/>
<ellipse cx="1414" cy="360" rx="3" ry="1.2" fill="#fff6dc" filter="url(#b1)"/>
<ellipse cx="1432" cy="322" rx="3" ry="1.1" fill="#fff6dc" filter="url(#b1)"/>
<ellipse cx="1552" cy="330" rx="3" ry="1.3" fill="#fff6dc" filter="url(#b1)"/>
<rect x="1824" y="384" width="27.5" height="5.5" fill="#fff"/>
<path d="M1153 425V525.5" stroke="#fff" stroke-width="1.6" fill="none"/>
<path d="M1148 443H1153" stroke="#fff" stroke-width="1.6"/>
<text x="1145.5" y="449.5" font-size="18.5" font-weight="bold" fill="#fff" text-anchor="end" >15</text>
<path d="M1148 470H1153" stroke="#fff" stroke-width="1.6"/>
<text x="1145.5" y="476.5" font-size="18.5" font-weight="bold" fill="#fff" text-anchor="end" >10</text>
<path d="M1148 497H1153" stroke="#fff" stroke-width="1.6"/>
<text x="1145.5" y="503.5" font-size="18.5" font-weight="bold" fill="#fff" text-anchor="end" >5</text>
<path d="M1148 524H1153" stroke="#fff" stroke-width="1.6"/>
<text x="1145.5" y="530.5" font-size="18.5" font-weight="bold" fill="#fff" text-anchor="end" >0</text>
<path d="M1150 429.5H1153" stroke="#fff" stroke-width="1.3"/>
<path d="M1150 456.5H1153" stroke="#fff" stroke-width="1.3"/>
<path d="M1150 483.5H1153" stroke="#fff" stroke-width="1.3"/>
<path d="M1150 510.5H1153" stroke="#fff" stroke-width="1.3"/>
<path d="M1172.1 526.2 L1173.3 527.6 L1174.6 524.6 L1175.8 528.1 L1177.1 525.4 L1178.3 525.2 L1179.6 523.6 L1181.1 500.3 L1182.6 490.5 L1184.1 498.8 L1185.1 496.3 L1186.1 489.2 L1187.1 484.4 L1188.3 482.9 L1189.4 486.7 L1190.9 506.3 L1192.0 502.3 L1193.1 497.3 L1194.4 495.8 L1195.7 500.2 L1196.9 498.8 L1198.2 491.6 L1199.5 485.2 L1200.7 500.3 L1201.9 493.3 L1203.2 480.5 L1204.4 470.9 L1205.7 476.3 L1207.0 482.6 L1208.2 492.0 L1209.2 490.7 L1210.2 491.2 L1211.2 489.7 L1212.7 496.5 L1214.0 494.6 L1215.2 489.4 L1216.5 485.2 L1217.5 488.5 L1218.5 495.0 L1219.5 498.8 L1220.5 491.7 L1221.5 490.0 L1222.5 484.4 L1223.5 491.5 L1224.5 503.4 L1225.5 509.3 L1226.8 503.9 L1228.1 495.8 L1229.3 488.2 L1230.4 490.3 L1231.6 495.7 L1232.7 490.6 L1233.8 483.7 L1234.8 485.8 L1235.8 485.8 L1236.8 488.2 L1238.0 483.5 L1239.1 480.7 L1240.2 486.5 L1241.4 488.2 L1242.9 460.3 L1243.9 470.5 L1244.9 482.6 L1245.9 492.7 L1247.0 488.2 L1248.1 479.2 L1249.3 472.3 L1250.4 470.1 L1251.5 483.5 L1252.7 491.2 L1253.9 490.6 L1255.2 485.7 L1256.4 484.4 L1257.6 487.6 L1258.7 491.9 L1259.8 500.1 L1260.9 503.3 L1262.0 493.1 L1263.0 492.7 L1264.0 485.2 L1265.0 491.5 L1266.0 496.2 L1267.0 503.3 L1268.0 497.9 L1269.0 493.7 L1270.0 489.7 L1271.1 492.4 L1272.2 495.7 L1273.4 488.9 L1274.5 479.2 L1276.0 497.3 L1277.1 505.0 L1278.3 515.3 L1279.5 519.1 L1280.8 520.9 L1282.0 521.4 L1283.2 521.0 L1284.3 522.3 L1285.4 520.5 L1286.6 521.4" fill="none" stroke="#fff" stroke-width="2.0" stroke-linejoin="round" stroke-linecap="round"/>
<path d="M1351.4 518.3 L1352.4 517.9 L1353.4 519.2 L1354.4 518.3 L1355.4 524.4 L1356.6 515.2 L1357.7 506.3 L1358.9 498.0 L1359.9 499.3 L1360.9 503.2 L1361.9 506.3 L1363.0 504.5 L1364.0 499.7 L1365.1 497.1 L1366.1 492.2 L1367.2 488.2 L1368.2 492.6 L1369.2 496.0 L1370.2 499.5 L1371.2 491.8 L1372.2 490.8 L1373.2 484.4 L1374.3 493.2 L1375.5 500.3 L1376.5 498.6 L1377.5 492.5 L1378.5 492.7 L1379.5 495.5 L1380.5 502.4 L1381.5 509.3 L1382.7 501.2 L1384.0 495.1 L1385.2 487.2 L1386.5 479.9 L1387.7 490.2 L1389.0 498.8 L1390.1 501.5 L1391.3 506.3 L1392.3 502.3 L1393.3 497.9 L1394.3 492.7 L1395.3 493.7 L1396.3 499.5 L1397.3 498.8 L1398.6 497.9 L1399.8 497.2 L1401.1 493.5 L1402.2 496.6 L1403.3 501.8 L1404.6 497.6 L1405.8 495.2 L1407.1 492.7 L1408.1 494.6 L1409.1 497.8 L1410.1 498.8 L1411.2 495.8 L1412.4 491.3 L1413.5 487.1 L1414.6 485.2 L1415.8 490.4 L1416.9 497.3 L1418.4 478.4 L1419.9 504.8 L1421.0 493.6 L1422.2 478.4 L1423.2 477.4 L1424.2 479.3 L1425.2 479.2 L1426.3 486.6 L1427.4 492.7 L1428.4 490.9 L1429.4 493.8 L1430.5 494.2 L1431.6 486.9 L1432.7 475.4 L1433.8 486.1 L1435.0 503.3 L1436.1 508.8 L1437.2 515.3 L1438.4 519.7 L1439.5 524.4 L1440.5 519.1" fill="none" stroke="#fff" stroke-width="2.0" stroke-linejoin="round" stroke-linecap="round"/>
<path d="M1520.2 515.6 L1521.4 517.8 L1522.5 519.1 L1523.6 519.8 L1524.6 513.8 L1525.7 511.3 L1526.8 507.4 L1527.9 502.8 L1529.0 498.0 L1530.8 501.5 L1532.5 479.6 L1534.3 498.0 L1535.6 504.7 L1536.9 510.3 L1538.2 505.9 L1539.6 499.8 L1541.3 508.6 L1542.8 492.3 L1544.3 476.0 L1545.4 492.3 L1546.6 510.3 L1547.8 503.3 L1548.9 497.1 L1550.1 492.7 L1551.4 497.6 L1552.7 501.5 L1554.5 491.0 L1555.8 504.1 L1557.1 515.6 L1558.6 501.6 L1560.1 483.1 L1561.2 492.4 L1562.2 500.6 L1563.3 508.6 L1564.3 504.6 L1565.4 498.7 L1566.4 493.6 L1567.9 499.6 L1569.4 510.3 L1570.8 517.1 L1572.1 520.9 L1573.8 518.2" fill="none" stroke="#fff" stroke-width="2.0" stroke-linejoin="round" stroke-linecap="round"/>
<path d="M1667.0 515.6 L1668.3 512.0 L1669.6 510.3 L1671.4 513.8 L1672.7 506.1 L1674.0 498.0 L1675.4 482.2 L1676.5 484.8 L1677.5 484.8 L1678.9 497.3 L1680.2 506.8 L1681.5 491.3 L1682.8 473.4 L1684.6 498.0 L1686.3 482.2 L1687.6 490.1 L1689.0 498.0 L1690.3 501.9 L1691.6 505.0 L1692.9 500.4 L1694.2 496.2 L1695.5 510.3 L1696.9 466.4 L1698.3 506.8 L1699.3 513.0 L1700.4 521.7 L1701.4 520.0 L1702.5 519.1" fill="none" stroke="#fff" stroke-width="2.0" stroke-linejoin="round" stroke-linecap="round"/>
<path d="M1796.7 516.5 L1797.8 516.0 L1798.8 517.3 L1800.6 492.7 L1801.5 469.9 L1803.2 483.9 L1804.4 469.9 L1805.5 496.2 L1806.6 493.2 L1807.6 491.0 L1809.4 471.6 L1810.7 478.1 L1812.0 485.7 L1813.8 468.1 L1815.5 475.2 L1817.3 506.8 L1819.0 515.6 L1820.3 510.3 L1821.3 522.6 L1822.6 515.6" fill="none" stroke="#fff" stroke-width="2.0" stroke-linejoin="round" stroke-linecap="round"/>
</g>
<g id="panelC">
<text x="164.3" y="612" font-size="24" font-weight="bold" fill="#000" textLength="121.9" lengthAdjust="spacingAndGlyphs" >Height (nm)</text>
<rect x="168" y="661" width="104.5" height="331" fill="#fff" stroke="#222" stroke-width="1.3"/>
<path d="M172.5 656V661" stroke="#111" stroke-width="1.5"/>
<text x="0.0" font-size="24" font-weight="bold" fill="#000" text-anchor="end" transform="translate(164.0,653.5) rotate(90)" >0</text>
<path d="M209 656V661" stroke="#111" stroke-width="1.5"/>
<text x="0.0" font-size="24" font-weight="bold" fill="#000" text-anchor="end" transform="translate(200.5,653.5) rotate(90)" >7</text>
<path d="M241.5 656V661" stroke="#111" stroke-width="1.5"/>
<text x="0.0" font-size="24" font-weight="bold" fill="#000" text-anchor="end" transform="translate(233.0,653.5) rotate(90)" >14</text>
<path d="M163.5 661H168" stroke="#111" stroke-width="1.5"/>
<text x="0.0" font-size="23.5" font-weight="bold" fill="#000" text-anchor="middle" transform="translate(143.5,661) rotate(90)" >0</text>
<path d="M163.5 771H168" stroke="#111" stroke-width="1.5"/>
<text x="0.0" font-size="23.5" font-weight="bold" fill="#000" text-anchor="middle" transform="translate(143.5,771) rotate(90)" >5</text>
<path d="M163.5 880.5H168" stroke="#111" stroke-width="1.5"/>
<text x="0.0" font-size="23.5" font-weight="bold" fill="#000" text-anchor="middle" transform="translate(143.5,880.5) rotate(90)" >10</text>
<path d="M163.5 991.5H168" stroke="#111" stroke-width="1.5"/>
<text x="0.0" font-size="23.5" font-weight="bold" fill="#000" text-anchor="middle" transform="translate(143.5,991.5) rotate(90)" >15</text>
<text x="-1.2" font-size="24" font-weight="bold" fill="#000" textLength="142.4" lengthAdjust="spacingAndGlyphs" transform="translate(115.5,755) rotate(90)" >Distance (µm)</text>
<path d="M171.2 661.1 L169.6 663.2 L169.6 665.4 L169.6 667.5 L169.6 669.1 L171.3 670.6 L173.4 672.2 L172.6 674.3 L170.5 676.4 L169.6 678.5 L170.6 680.7 L173.8 682.8 L174.4 684.9 L173.3 687.0 L172.0 689.1 L172.2 691.2 L173.0 692.8 L175.4 694.4 L177.5 695.9 L180.6 696.8 L183.4 697.6 L185.4 698.5 L188.8 698.6 L191.8 698.7 L194.2 698.9 L196.0 699.0 L198.1 699.1 L201.3 699.1 L203.0 699.0 L204.4 699.0 L207.6 698.9 L209.3 698.9 L211.3 698.8 L215.1 698.8 L216.4 698.8 L217.7 698.7 L220.2 698.7 L224.2 698.6 L224.5 698.6 L227.5 698.5 L229.1 698.5 L227.2 699.1 L224.7 699.7 L222.4 700.4 L219.2 701.0 L217.1 701.6 L219.4 702.7 L222.3 703.8 L225.0 704.8 L222.4 706.7 L220.3 708.6 L223.1 709.2 L225.8 709.9 L226.3 710.5 L229.5 711.1 L231.3 711.8 L228.6 712.8 L226.7 713.9 L225.0 714.9 L227.2 715.5 L229.9 716.0 L231.8 716.5 L232.7 717.0 L237.9 717.6 L239.2 718.1 L236.9 719.1 L234.4 720.0 L233.1 720.9 L230.0 721.9 L228.2 722.8 L229.7 723.5 L233.6 724.1 L236.1 724.7 L237.7 725.4 L240.8 726.0 L239.1 726.5 L236.4 727.1 L232.9 727.6 L232.6 728.1 L229.2 728.6 L226.6 729.2 L228.2 730.4 L231.7 731.6 L233.8 732.7 L236.1 733.9 L238.9 734.9 L239.4 735.8 L243.2 736.8 L245.2 737.7 L247.2 738.7 L248.7 739.6 L246.9 740.1 L245.2 740.5 L242.5 741.0 L239.8 741.4 L236.9 741.9 L236.0 742.3 L232.9 742.8 L235.9 743.5 L237.6 744.3 L239.7 745.1 L242.3 745.8 L244.0 746.6 L240.1 747.0 L239.9 747.4 L235.7 747.8 L235.5 748.2 L233.9 748.6 L232.3 749.0 L228.5 749.4 L226.6 749.7 L229.1 750.2 L231.0 750.7 L231.7 751.2 L236.0 751.6 L237.7 752.1 L240.0 752.6 L241.5 753.1 L244.3 753.5 L246.6 754.0 L248.7 754.5 L247.3 755.1 L244.2 755.7 L244.1 756.3 L239.0 756.9 L236.7 757.5 L234.5 758.1 L231.6 758.6 L229.7 759.2 L233.1 759.7 L234.7 760.2 L235.5 760.7 L238.7 761.1 L241.7 761.6 L242.1 762.1 L245.4 762.6 L247.3 763.0 L251.4 763.5 L251.9 764.0 L250.0 764.4 L247.2 764.8 L244.8 765.2 L244.3 765.6 L240.4 766.0 L240.1 766.4 L235.1 766.8 L233.9 767.2 L231.6 767.5 L229.0 767.9 L227.1 768.3 L225.0 768.7 L227.5 770.3 L228.5 771.9 L229.9 773.5 L232.9 775.1 L231.5 776.2 L229.2 777.4 L225.3 778.6 L223.4 779.8 L225.9 780.5 L226.1 781.2 L231.0 781.8 L231.5 782.5 L234.4 783.2 L238.5 783.9 L239.2 784.6 L236.4 785.7 L235.3 786.9 L232.6 788.1 L231.3 789.3 L232.3 789.8 L235.1 790.2 L238.3 790.7 L239.5 791.1 L242.2 791.6 L245.4 792.0 L247.2 792.5 L244.8 793.0 L241.7 793.6 L241.3 794.2 L238.1 794.8 L236.7 795.3 L232.6 795.9 L232.3 796.5 L227.8 797.1 L225.2 797.6 L223.9 798.2 L221.8 798.8 L224.0 799.2 L226.8 799.6 L228.6 800.0 L231.8 800.4 L234.7 800.8 L235.6 801.2 L237.5 801.6 L240.8 802.0 L242.7 802.8 L245.7 803.5 L247.8 804.3 L249.0 805.1 L250.7 805.9 L253.5 806.7 L251.1 807.0 L249.4 807.3 L245.9 807.7 L244.9 808.0 L241.8 808.3 L239.5 808.6 L236.5 808.9 L235.5 809.2 L232.2 809.6 L229.7 809.9 L231.1 810.5 L235.1 811.1 L236.6 811.7 L240.0 812.2 L241.8 812.8 L243.6 813.4 L246.5 814.0 L248.7 814.6 L246.2 815.3 L243.7 816.0 L242.0 816.7 L240.3 817.3 L237.5 818.0 L235.1 818.7 L232.9 819.4 L234.9 820.0 L238.1 820.6 L240.3 821.1 L243.1 821.7 L245.1 822.3 L248.7 822.9 L248.4 823.5 L251.9 824.1 L249.6 824.6 L247.8 825.0 L245.8 825.5 L241.8 825.9 L239.8 826.4 L238.3 826.8 L236.1 827.3 L239.2 827.8 L241.6 828.3 L242.2 828.9 L245.7 829.4 L248.8 829.9 L250.3 830.4 L248.2 830.9 L245.2 831.4 L243.2 831.9 L240.5 832.3 L240.1 832.8 L236.9 833.3 L234.5 833.8 L232.0 834.2 L230.3 834.7 L228.2 835.2 L229.9 835.7 L232.2 836.2 L235.3 836.8 L237.5 837.3 L240.4 837.8 L242.4 838.4 L240.5 839.1 L239.2 839.9 L236.2 840.7 L234.4 841.5 L232.3 842.3 L229.5 843.1 L228.9 843.9 L225.6 844.7 L222.8 845.5 L221.8 846.3 L224.9 846.9 L226.7 847.5 L228.0 848.0 L231.2 848.6 L233.4 849.2 L235.4 849.8 L236.3 850.4 L239.2 851.0 L237.0 852.2 L233.8 853.4 L231.7 854.6 L229.7 855.8 L231.6 856.4 L233.5 856.9 L236.7 857.5 L237.9 858.1 L241.1 858.7 L243.0 859.3 L244.6 859.9 L247.2 860.5 L244.9 861.3 L242.9 862.1 L240.9 862.9 L237.5 863.7 L236.5 864.5 L232.9 865.3 L235.6 866.2 L238.3 867.1 L238.8 868.0 L241.2 868.9 L245.1 869.8 L246.3 870.7 L248.7 871.6 L247.0 872.4 L245.4 873.2 L241.4 874.0 L240.6 874.7 L239.6 875.5 L236.1 876.3 L238.3 878.4 L239.3 880.5 L240.8 882.7 L239.0 883.3 L236.3 884.0 L234.6 884.7 L232.7 885.4 L229.4 886.0 L227.7 886.7 L225.0 887.4 L227.6 888.2 L230.3 889.0 L232.7 889.8 L233.8 890.6 L237.7 891.4 L239.2 892.2 L237.5 892.5 L233.7 892.9 L231.9 893.3 L228.7 893.7 L227.2 894.1 L225.3 894.5 L221.8 894.9 L220.3 895.3 L222.1 896.1 L224.4 896.9 L226.9 897.7 L229.2 898.5 L231.4 899.3 L234.5 900.1 L232.9 901.2 L230.4 902.4 L228.0 903.6 L226.6 904.8 L228.9 906.4 L229.4 908.0 L231.3 909.6 L229.5 910.2 L225.4 910.8 L224.8 911.5 L220.9 912.1 L218.7 912.7 L219.6 915.1 L221.8 917.5 L219.6 917.8 L215.9 918.1 L213.5 918.4 L211.9 918.7 L209.2 919.1 L209.7 922.2 L210.8 925.4 L208.7 926.2 L206.1 927.0 L203.8 927.8 L201.3 928.5 L199.3 929.9 L197.6 931.3 L194.9 932.7 L192.6 932.8 L191.0 933.0 L188.5 933.1 L184.1 933.3 L181.9 933.4 L181.8 933.6 L178.0 933.8 L175.9 933.9 L174.2 936.0 L172.2 938.0 L174.4 939.6 L177.0 941.2 L179.1 942.8 L178.5 943.7 L174.2 944.7 L172.5 945.6 L170.3 946.6 L169.6 947.5 L169.7 948.7 L172.2 949.9 L175.0 951.1 L177.5 952.3 L175.4 953.9 L173.6 955.4 L171.2 957.0 L172.2 958.2 L174.9 959.4 L179.5 960.6 L180.7 961.8 L178.5 962.7 L177.1 963.7 L174.2 964.6 L171.9 965.6 L170.3 966.5 L174.0 967.7 L173.8 968.9 L176.3 970.1 L179.1 971.3 L177.3 972.8 L174.5 974.4 L172.2 976.0 L172.8 977.6 L175.9 979.2 L177.5 980.8 L176.7 982.9 L173.7 985.0 L173.4 987.1 L175.3 990.9" fill="none" stroke="#41a9dd" stroke-width="3" stroke-linejoin="round" stroke-linecap="round"/>
<path d="M232.5 696V941" stroke="#000" stroke-width="1.8" stroke-dasharray="8.5 6" fill="none"/>
<path d="M199 702V937" stroke="#000" stroke-width="1.2" marker-start="url(#ah)" marker-end="url(#ah)"/>
<path d="M169 943H230.5" stroke="#000" stroke-width="1.2" marker-start="url(#ah)" marker-end="url(#ah)"/>
<path d="M232.5 939.5V948" stroke="#000" stroke-width="1.8"/>
<text x="0.0" font-size="25.5" font-weight="normal" fill="#41a9dd" font-style="italic" transform="translate(179.2,790.5) rotate(90)" stroke="#41a9dd" stroke-width="0.6">d</text>
<text x="0.0" font-size="12.5" font-weight="bold" fill="#41a9dd" transform="translate(170.5,806) rotate(90)" >1</text>
<text x="0.0" font-size="25.5" font-weight="normal" fill="#41a9dd" font-style="italic" transform="translate(197.8,948) rotate(90)" stroke="#41a9dd" stroke-width="0.6">h</text>
<text x="0.0" font-size="12.5" font-weight="bold" fill="#41a9dd" transform="translate(188.5,963.5) rotate(90)" >1</text>
<text x="426.2" y="624.5" font-size="32" font-weight="bold" fill="#000" textLength="219.1" lengthAdjust="spacingAndGlyphs" >Printed collagen I</text>
<clipPath id="clipC"><rect x="355.5" y="660" width="352.5" height="341.5"/></clipPath>
<rect x="355.5" y="660" width="352.5" height="341.5" fill="#000"/>
<g clip-path="url(#clipC)">
<rect x="355.5" y="660" width="352.5" height="341.5" fill="#300" filter="url(#bgC)"/>
<ellipse cx="519" cy="820" rx="136" ry="137" fill="#000" opacity="0.9" filter="url(#halo)"/>
<rect x="611" y="953.5" width="98" height="48" fill="#000" opacity="0.92"/>
<g filter="url(#fC)"><path d="M520 697 C 560 696 600 712 622 748 C 636 772 642 800 641 826 C 640 860 628 893 604 915 C 580 936 552 944 520 943 C 486 943 452 930 428 904 C 408 882 397 852 397 822 C 397 800 399 785 403 772 L 411 758 L 419 751 L 428 744 L 436 740 L 438 732 L 446 729 L 461 724 L 464 714 L 474 708 C 488 701 504 697 520 697z" fill="url(#gC)"/><path d="M438 733l10 -3.5l-6 5z M420 752.5l9 -4l-5 5.5z" fill="#fff"/></g>
</g>
<rect x="525" y="661.5" width="10.5" height="341.5" fill="#0e8bc9"/>
<rect x="356" y="820" width="353" height="10" fill="#e3222d"/>
<rect x="627.5" y="985" width="47.5" height="4.5" fill="#fff"/>
<text x="736.9" y="732" font-size="22" font-weight="bold" fill="#000" textLength="64.2" lengthAdjust="spacingAndGlyphs" >15 nm</text>
<rect x="752.5" y="747" width="25.0" height="172" fill="url(#cmap)" stroke="#1a1a1a" stroke-width="1.2"/>
<text x="741.9" y="949" font-size="22" font-weight="bold" fill="#000" textLength="53.2" lengthAdjust="spacingAndGlyphs" >0 nm</text>
<rect x="359" y="1060" width="358.5" height="113" fill="#fff" stroke="#222" stroke-width="1.3"/>
<path d="M354.5 1092.4H359" stroke="#111" stroke-width="1.5"/>
<text x="353.3" y="1103.3" font-size="21" font-weight="bold" fill="#000" text-anchor="end" >14</text>
<path d="M354.5 1130.8H359" stroke="#111" stroke-width="1.5"/>
<text x="353.3" y="1138.3" font-size="21" font-weight="bold" fill="#000" text-anchor="end" >7</text>
<path d="M354.5 1169.6H359" stroke="#111" stroke-width="1.5"/>
<text x="353.3" y="1174.2" font-size="21" font-weight="bold" fill="#000" text-anchor="end" >0</text>
<path d="M358.5 1173V1177.5" stroke="#111" stroke-width="1.5"/>
<text x="359.0" y="1199.4" font-size="21" font-weight="bold" fill="#000" text-anchor="middle" >0</text>
<path d="M477.5 1173V1177.5" stroke="#111" stroke-width="1.5"/>
<text x="478.0" y="1199.4" font-size="21" font-weight="bold" fill="#000" text-anchor="middle" >5</text>
<path d="M597 1173V1177.5" stroke="#111" stroke-width="1.5"/>
<text x="597.5" y="1199.4" font-size="21" font-weight="bold" fill="#000" text-anchor="middle" >10</text>
<path d="M716.5 1173V1177.5" stroke="#111" stroke-width="1.5"/>
<text x="717.0" y="1199.4" font-size="21" font-weight="bold" fill="#000" text-anchor="middle" >15</text>
<text x="-1.1" font-size="22.7" font-weight="bold" fill="#000" textLength="120.3" lengthAdjust="spacingAndGlyphs" transform="translate(324,1186) rotate(-90)" >Height (nm)</text>
<text x="470.3" y="1227.5" font-size="24" font-weight="bold" fill="#000" textLength="144.4" lengthAdjust="spacingAndGlyphs" >Distance (µm)</text>
<path d="M359.4 1168.8 L361.0 1170.4 L362.6 1172.7 L364.4 1170.7 L366.1 1169.4 L367.8 1166.9 L369.5 1165.7 L371.3 1164.0 L372.9 1165.6 L374.5 1168.4 L376.3 1169.1 L378.1 1169.4 L379.9 1169.9 L381.5 1172.0 L383.1 1173.3 L384.7 1175.3 L386.6 1169.4 L388.6 1163.4 L390.2 1166.6 L391.8 1169.9 L394.0 1164.3 L396.1 1159.1 L397.7 1162.3 L399.4 1165.6 L401.5 1162.0 L403.7 1159.1 L405.8 1154.1 L408.0 1149.4 L410.2 1145.2 L412.3 1140.7 L414.5 1134.8 L416.6 1128.8 L418.8 1127.7 L421.0 1126.7 L423.1 1124.0 L425.3 1120.2 L427.9 1121.3 L429.6 1113.7 L431.2 1114.1 L432.8 1114.4 L434.4 1111.7 L436.1 1109.4 L437.7 1110.5 L439.3 1111.6 L440.9 1107.6 L442.5 1104.0 L444.7 1106.1 L446.9 1108.3 L448.5 1105.0 L450.1 1101.8 L451.7 1102.9 L453.3 1102.9 L455.0 1099.7 L456.6 1096.4 L458.7 1097.5 L460.9 1105.1 L463.1 1108.4 L465.2 1111.6 L466.8 1109.6 L468.5 1107.2 L470.6 1102.9 L472.2 1105.6 L473.9 1107.2 L476.0 1099.7 L478.2 1098.3 L480.3 1097.1 L482.0 1096.1 L483.6 1095.4 L485.2 1097.6 L486.8 1098.6 L489.0 1097.2 L491.1 1096.4 L493.3 1098.6 L496.1 1105.1 L497.9 1100.1 L499.8 1095.4 L502.6 1095.4 L505.2 1101.8 L506.8 1103.1 L508.4 1104.0 L510.0 1102.9 L511.7 1100.8 L513.8 1092.1 L515.4 1089.7 L517.1 1087.8 L518.7 1088.3 L520.3 1090.0 L521.9 1086.9 L523.5 1083.5 L525.2 1082.8 L526.8 1082.4 L528.9 1084.6 L530.6 1082.5 L532.2 1080.7 L534.3 1082.4 L535.4 1087.8 L537.0 1088.8 L538.7 1089.5 L540.8 1089.6 L543.0 1089.5 L544.6 1091.4 L546.2 1093.2 L547.8 1091.8 L549.5 1090.6 L551.6 1094.3 L553.2 1091.9 L554.9 1088.9 L556.5 1086.0 L558.1 1082.4 L559.7 1082.2 L561.3 1082.0 L563.5 1087.8 L565.1 1091.5 L566.7 1095.4 L568.4 1095.0 L570.0 1094.3 L571.6 1098.7 L573.2 1102.9 L574.8 1101.6 L576.5 1100.8 L578.1 1101.2 L579.7 1101.8 L581.3 1099.4 L582.9 1096.4 L585.1 1094.3 L587.3 1092.1 L589.4 1096.4 L591.6 1100.8 L593.7 1099.2 L595.9 1097.5 L598.1 1095.3 L600.2 1093.2 L601.8 1094.8 L603.5 1096.4 L605.6 1102.9 L607.8 1099.7 L609.9 1097.5 L612.1 1105.0 L614.3 1111.6 L616.4 1106.7 L618.6 1101.8 L620.2 1107.0 L621.8 1112.6 L623.4 1116.7 L625.1 1120.2 L626.7 1114.3 L628.3 1108.3 L630.5 1105.1 L632.6 1101.8 L634.2 1108.6 L635.9 1114.8 L638.0 1113.7 L640.2 1111.6 L641.8 1115.5 L643.4 1119.1 L645.0 1119.5 L646.7 1119.1 L648.3 1126.7 L649.9 1133.2 L651.5 1134.0 L653.1 1135.3 L655.3 1153.7 L656.9 1155.7 L658.5 1158.0 L660.2 1159.8 L661.8 1161.2 L663.4 1159.7 L665.0 1159.1 L666.6 1161.7 L668.3 1164.5 L669.9 1165.9 L671.5 1166.6 L673.7 1167.4 L675.8 1167.7 L678.0 1168.4 L680.1 1168.8 L682.3 1167.8 L684.4 1167.7 L686.6 1167.2 L688.8 1165.6 L690.4 1167.8 L692.0 1169.9 L694.2 1169.0 L696.3 1167.7 L698.5 1169.2 L700.6 1170.5 L702.8 1169.2 L705.0 1168.8 L706.9 1166.1 L708.9 1164.0 L710.7 1166.3 L712.5 1169.2 L714.5 1169.5 L716.4 1168.8" fill="none" stroke="#e3202e" stroke-width="2.7" stroke-linejoin="round" stroke-linecap="round"/>
<path d="M428 1106H680.6" stroke="#000" stroke-width="1.8" stroke-dasharray="13 11.8" fill="none"/>
<path d="M411.5 1141H650" stroke="#000" stroke-width="1.2" marker-start="url(#ah)" marker-end="url(#ah)"/>
<path d="M675.8 1107.5V1173.5" stroke="#000" stroke-width="1.2" marker-start="url(#ah)" marker-end="url(#ah)"/>
<text x="522.5" y="1161" font-size="25" font-weight="bold" fill="#e3202e" font-style="italic" >d</text>
<text x="537.6" y="1170.5" font-size="12.5" font-weight="bold" fill="#e3202e" >2</text>
<text x="681.5" y="1141.8" font-size="25" font-weight="bold" fill="#e3202e" font-style="italic" >h</text>
<text x="695.5" y="1150.4" font-size="12.5" font-weight="bold" fill="#e3202e" >2</text>
</g>
<g id="panelD">
<text x="1235.4" y="602.5" font-size="21.5" font-weight="bold" fill="#000" textLength="100.7" lengthAdjust="spacingAndGlyphs" >Collagen I</text>
<text x="1650.9" y="603.5" font-size="21.5" font-weight="bold" fill="#000" textLength="116.2" lengthAdjust="spacingAndGlyphs" >Fibronectin</text>
<text x="976.8" y="641" font-size="24" font-weight="normal" fill="#000" font-style="italic" textLength="13.4" lengthAdjust="spacingAndGlyphs" >n</text>
<text x="993.8" y="641" font-size="24" font-weight="normal" fill="#000" textLength="105.4" lengthAdjust="spacingAndGlyphs" >(patterns)</text>
<text x="1150.8" y="641" font-size="23.5" font-weight="bold" fill="#e8dc4c" font-style="italic" textLength="27.9" lengthAdjust="spacingAndGlyphs" stroke="#2a2a2a" stroke-width="1.0" paint-order="stroke" stroke-linejoin="round">39</text>
<text x="1210.8" y="641" font-size="23.5" font-weight="bold" fill="#a9aed2" font-style="italic" textLength="28.4" lengthAdjust="spacingAndGlyphs" stroke="#2a2a2a" stroke-width="1.0" paint-order="stroke" stroke-linejoin="round">40</text>
<text x="1271.8" y="641" font-size="23.5" font-weight="bold" fill="#e9b58c" font-style="italic" textLength="27.4" lengthAdjust="spacingAndGlyphs" stroke="#2a2a2a" stroke-width="1.0" paint-order="stroke" stroke-linejoin="round">53</text>
<text x="1331.8" y="641" font-size="23.5" font-weight="bold" fill="#d63d50" font-style="italic" textLength="27.4" lengthAdjust="spacingAndGlyphs" stroke="#2a2a2a" stroke-width="1.0" paint-order="stroke" stroke-linejoin="round">40</text>
<text x="1392.3" y="641" font-size="23.5" font-weight="bold" fill="#52bce6" font-style="italic" textLength="26.4" lengthAdjust="spacingAndGlyphs" stroke="#2a2a2a" stroke-width="1.0" paint-order="stroke" stroke-linejoin="round">41</text>
<text x="1578.3" y="641" font-size="23.5" font-weight="bold" fill="#e8dc4c" font-style="italic" textLength="27.9" lengthAdjust="spacingAndGlyphs" stroke="#2a2a2a" stroke-width="1.0" paint-order="stroke" stroke-linejoin="round">44</text>
<text x="1638.8" y="641" font-size="23.5" font-weight="bold" fill="#a9aed2" font-style="italic" textLength="27.9" lengthAdjust="spacingAndGlyphs" stroke="#2a2a2a" stroke-width="1.0" paint-order="stroke" stroke-linejoin="round">55</text>
<text x="1699.3" y="641" font-size="23.5" font-weight="bold" fill="#e9b58c" font-style="italic" textLength="25.9" lengthAdjust="spacingAndGlyphs" stroke="#2a2a2a" stroke-width="1.0" paint-order="stroke" stroke-linejoin="round">41</text>
<text x="1759.8" y="641" font-size="23.5" font-weight="bold" fill="#d63d50" font-style="italic" textLength="27.4" lengthAdjust="spacingAndGlyphs" stroke="#2a2a2a" stroke-width="1.0" paint-order="stroke" stroke-linejoin="round">56</text>
<text x="1820.3" y="641" font-size="23.5" font-weight="bold" fill="#52bce6" font-style="italic" textLength="26.4" lengthAdjust="spacingAndGlyphs" stroke="#2a2a2a" stroke-width="1.0" paint-order="stroke" stroke-linejoin="round">41</text>
<rect x="1106" y="660.5" width="361" height="123.5" fill="#fff" stroke="#1c1c1c" stroke-width="2"/>
<g fill="#efe88a" fill-opacity="0.55" stroke="#e6dc62" stroke-opacity="0.6" stroke-width="1.2"><circle cx="1182.2" cy="677.9" r="3.7"/><circle cx="1152.2" cy="681.6" r="3.7"/><circle cx="1162.8" cy="688.1" r="3.7"/><circle cx="1158.3" cy="701.0" r="3.7"/><circle cx="1171.1" cy="689.4" r="3.7"/><circle cx="1186.7" cy="680.8" r="3.7"/><circle cx="1161.9" cy="680.5" r="3.7"/><circle cx="1163.5" cy="718.7" r="3.7"/><circle cx="1167.5" cy="717.0" r="3.7"/><circle cx="1161.1" cy="667.3" r="3.7"/><circle cx="1167.0" cy="707.2" r="3.7"/><circle cx="1149.1" cy="688.6" r="3.7"/><circle cx="1180.5" cy="696.9" r="3.7"/><circle cx="1170.8" cy="698.1" r="3.7"/><circle cx="1157.6" cy="688.8" r="3.7"/><circle cx="1150.2" cy="698.9" r="3.7"/><circle cx="1153.6" cy="689.9" r="3.7"/><circle cx="1157.8" cy="710.5" r="3.7"/><circle cx="1140.5" cy="689.9" r="3.7"/><circle cx="1176.3" cy="701.1" r="3.7"/><circle cx="1145.3" cy="688.4" r="3.7"/><circle cx="1184.8" cy="690.0" r="3.7"/><circle cx="1162.9" cy="710.6" r="3.7"/><circle cx="1163.1" cy="700.0" r="3.7"/><circle cx="1169.0" cy="669.9" r="3.7"/><circle cx="1177.2" cy="677.4" r="3.7"/><circle cx="1154.3" cy="701.1" r="3.7"/><circle cx="1172.9" cy="710.3" r="3.7"/><circle cx="1167.3" cy="678.8" r="3.7"/><circle cx="1157.0" cy="677.3" r="3.7"/><circle cx="1165.7" cy="671.3" r="3.7"/><circle cx="1166.5" cy="696.7" r="3.7"/><circle cx="1180.3" cy="686.6" r="3.7"/><circle cx="1142.3" cy="677.5" r="3.7"/><circle cx="1147.4" cy="680.1" r="3.7"/><circle cx="1190.1" cy="688.2" r="3.7"/><circle cx="1175.8" cy="686.4" r="3.7"/><circle cx="1166.6" cy="690.1" r="3.7"/><circle cx="1172.2" cy="679.8" r="3.7"/></g>
<g fill="#c3c7e2" fill-opacity="0.55" stroke="#aeb3d6" stroke-opacity="0.6" stroke-width="1.2"><circle cx="1215.9" cy="728.7" r="3.7"/><circle cx="1234.5" cy="741.7" r="3.7"/><circle cx="1235.3" cy="749.3" r="3.7"/><circle cx="1220.4" cy="731.9" r="3.7"/><circle cx="1232.6" cy="722.4" r="3.7"/><circle cx="1234.7" cy="729.2" r="3.7"/><circle cx="1206.0" cy="728.4" r="3.7"/><circle cx="1206.7" cy="737.1" r="3.7"/><circle cx="1205.2" cy="748.2" r="3.7"/><circle cx="1225.5" cy="736.9" r="3.7"/><circle cx="1211.4" cy="737.9" r="3.7"/><circle cx="1230.0" cy="751.0" r="3.7"/><circle cx="1225.0" cy="730.9" r="3.7"/><circle cx="1197.4" cy="739.8" r="3.7"/><circle cx="1230.1" cy="740.2" r="3.7"/><circle cx="1239.5" cy="750.6" r="3.7"/><circle cx="1224.4" cy="710.0" r="3.7"/><circle cx="1245.4" cy="749.7" r="3.7"/><circle cx="1238.6" cy="740.9" r="3.7"/><circle cx="1224.8" cy="749.2" r="3.7"/><circle cx="1227.6" cy="712.5" r="3.7"/><circle cx="1221.1" cy="740.0" r="3.7"/><circle cx="1222.0" cy="720.3" r="3.7"/><circle cx="1243.4" cy="737.0" r="3.7"/><circle cx="1244.8" cy="728.7" r="3.7"/><circle cx="1210.0" cy="746.3" r="3.7"/><circle cx="1202.0" cy="741.3" r="3.7"/><circle cx="1227.3" cy="720.6" r="3.7"/><circle cx="1249.7" cy="731.5" r="3.7"/><circle cx="1251.8" cy="737.3" r="3.7"/><circle cx="1248.3" cy="739.9" r="3.7"/><circle cx="1215.2" cy="741.4" r="3.7"/><circle cx="1222.4" cy="711.9" r="3.7"/><circle cx="1201.0" cy="728.8" r="3.7"/><circle cx="1239.2" cy="729.0" r="3.7"/><circle cx="1215.0" cy="750.9" r="3.7"/><circle cx="1219.5" cy="746.0" r="3.7"/><circle cx="1229.4" cy="730.0" r="3.7"/><circle cx="1217.3" cy="718.7" r="3.7"/><circle cx="1210.0" cy="727.8" r="3.7"/></g>
<g fill="#f1ceb0" fill-opacity="0.55" stroke="#eabb92" stroke-opacity="0.6" stroke-width="1.2"><circle cx="1265.5" cy="745.1" r="3.7"/><circle cx="1256.3" cy="746.3" r="3.7"/><circle cx="1258.7" cy="751.1" r="3.7"/><circle cx="1276.1" cy="740.4" r="3.7"/><circle cx="1276.0" cy="749.6" r="3.7"/><circle cx="1282.1" cy="745.2" r="3.7"/><circle cx="1290.5" cy="759.5" r="3.7"/><circle cx="1311.5" cy="750.0" r="3.7"/><circle cx="1309.4" cy="745.6" r="3.7"/><circle cx="1270.0" cy="744.6" r="3.7"/><circle cx="1284.4" cy="749.3" r="3.7"/><circle cx="1287.9" cy="746.1" r="3.7"/><circle cx="1291.5" cy="744.8" r="3.7"/><circle cx="1281.2" cy="734.7" r="3.7"/><circle cx="1285.3" cy="760.2" r="3.7"/><circle cx="1278.0" cy="744.4" r="3.7"/><circle cx="1307.2" cy="751.0" r="3.7"/><circle cx="1289.3" cy="735.5" r="3.7"/><circle cx="1297.9" cy="739.5" r="3.7"/><circle cx="1300.6" cy="744.9" r="3.7"/><circle cx="1285.4" cy="736.0" r="3.7"/><circle cx="1295.8" cy="744.9" r="3.7"/><circle cx="1306.5" cy="740.9" r="3.7"/><circle cx="1262.8" cy="750.5" r="3.7"/><circle cx="1304.5" cy="745.8" r="3.7"/><circle cx="1314.3" cy="745.0" r="3.7"/><circle cx="1267.1" cy="739.8" r="3.7"/><circle cx="1302.2" cy="750.2" r="3.7"/><circle cx="1271.5" cy="750.7" r="3.7"/><circle cx="1282.6" cy="755.1" r="3.7"/><circle cx="1270.0" cy="755.4" r="3.7"/><circle cx="1288.7" cy="741.1" r="3.7"/><circle cx="1280.6" cy="740.1" r="3.7"/><circle cx="1268.1" cy="749.4" r="3.7"/><circle cx="1274.8" cy="754.3" r="3.7"/><circle cx="1263.3" cy="740.6" r="3.7"/><circle cx="1300.6" cy="755.2" r="3.7"/><circle cx="1302.9" cy="739.8" r="3.7"/><circle cx="1271.5" cy="739.4" r="3.7"/><circle cx="1278.7" cy="754.8" r="3.7"/><circle cx="1296.6" cy="755.5" r="3.7"/><circle cx="1260.6" cy="745.9" r="3.7"/><circle cx="1297.9" cy="749.8" r="3.7"/><circle cx="1293.7" cy="750.2" r="3.7"/><circle cx="1279.9" cy="759.7" r="3.7"/><circle cx="1274.5" cy="745.1" r="3.7"/><circle cx="1291.1" cy="756.1" r="3.7"/><circle cx="1289.6" cy="750.9" r="3.7"/><circle cx="1284.6" cy="739.5" r="3.7"/><circle cx="1281.2" cy="750.4" r="3.7"/><circle cx="1293.5" cy="738.9" r="3.7"/><circle cx="1287.5" cy="755.5" r="3.7"/><circle cx="1284.3" cy="733.0" r="3.7"/></g>
<g fill="#de6a74" fill-opacity="0.55" stroke="#d64856" stroke-opacity="0.6" stroke-width="1.2"><circle cx="1353.8" cy="777.9" r="3.7"/><circle cx="1351.1" cy="782.9" r="3.7"/><circle cx="1361.1" cy="784.0" r="3.7"/><circle cx="1347.8" cy="782.1" r="3.7"/><circle cx="1318.0" cy="777.5" r="3.7"/><circle cx="1350.3" cy="773.9" r="3.7"/><circle cx="1361.8" cy="778.5" r="3.7"/><circle cx="1321.0" cy="777.7" r="3.7"/><circle cx="1329.4" cy="774.4" r="3.7"/><circle cx="1364.9" cy="773.8" r="3.7"/><circle cx="1358.0" cy="779.3" r="3.7"/><circle cx="1332.2" cy="774.2" r="3.7"/><circle cx="1340.4" cy="775.0" r="3.7"/><circle cx="1373.9" cy="778.8" r="3.7"/><circle cx="1321.2" cy="774.6" r="3.7"/><circle cx="1357.5" cy="783.7" r="3.7"/><circle cx="1342.0" cy="779.2" r="3.7"/><circle cx="1347.5" cy="773.0" r="3.7"/><circle cx="1365.0" cy="779.2" r="3.7"/><circle cx="1325.6" cy="778.3" r="3.7"/><circle cx="1325.1" cy="783.8" r="3.7"/><circle cx="1335.9" cy="773.5" r="3.7"/><circle cx="1369.0" cy="778.5" r="3.7"/><circle cx="1354.0" cy="782.5" r="3.7"/><circle cx="1332.6" cy="783.4" r="3.7"/><circle cx="1343.3" cy="783.1" r="3.7"/><circle cx="1328.8" cy="782.8" r="3.7"/><circle cx="1357.8" cy="773.9" r="3.7"/><circle cx="1345.9" cy="777.8" r="3.7"/><circle cx="1313.8" cy="779.3" r="3.7"/><circle cx="1337.1" cy="779.3" r="3.7"/><circle cx="1362.4" cy="773.4" r="3.7"/><circle cx="1325.3" cy="773.7" r="3.7"/><circle cx="1348.9" cy="778.2" r="3.7"/><circle cx="1355.0" cy="774.8" r="3.7"/><circle cx="1343.0" cy="774.9" r="3.7"/><circle cx="1330.1" cy="778.7" r="3.7"/><circle cx="1333.7" cy="778.9" r="3.7"/><circle cx="1335.7" cy="783.3" r="3.7"/><circle cx="1339.9" cy="783.6" r="3.7"/></g>
<g fill="#86d0ee" fill-opacity="0.55" stroke="#58bfe8" stroke-opacity="0.6" stroke-width="1.2"><circle cx="1417.3" cy="780.1" r="3.7"/><circle cx="1405.2" cy="784.1" r="3.7"/><circle cx="1375.9" cy="780.3" r="3.7"/><circle cx="1409.6" cy="781.6" r="3.7"/><circle cx="1404.5" cy="781.1" r="3.7"/><circle cx="1397.2" cy="781.2" r="3.7"/><circle cx="1399.8" cy="776.4" r="3.7"/><circle cx="1395.7" cy="784.4" r="3.7"/><circle cx="1409.8" cy="776.6" r="3.7"/><circle cx="1418.9" cy="785.2" r="3.7"/><circle cx="1395.9" cy="776.4" r="3.7"/><circle cx="1409.8" cy="784.4" r="3.7"/><circle cx="1429.2" cy="777.8" r="3.7"/><circle cx="1412.8" cy="772.8" r="3.7"/><circle cx="1377.0" cy="777.0" r="3.7"/><circle cx="1392.6" cy="780.3" r="3.7"/><circle cx="1430.7" cy="781.3" r="3.7"/><circle cx="1405.0" cy="776.5" r="3.7"/><circle cx="1421.9" cy="780.7" r="3.7"/><circle cx="1419.6" cy="777.7" r="3.7"/><circle cx="1433.2" cy="778.0" r="3.7"/><circle cx="1435.3" cy="781.3" r="3.7"/><circle cx="1385.9" cy="777.3" r="3.7"/><circle cx="1414.0" cy="780.3" r="3.7"/><circle cx="1400.1" cy="780.0" r="3.7"/><circle cx="1400.6" cy="785.1" r="3.7"/><circle cx="1381.6" cy="776.9" r="3.7"/><circle cx="1383.9" cy="781.2" r="3.7"/><circle cx="1400.6" cy="773.8" r="3.7"/><circle cx="1405.4" cy="772.0" r="3.7"/><circle cx="1405.0" cy="773.1" r="3.7"/><circle cx="1426.1" cy="781.4" r="3.7"/><circle cx="1424.6" cy="777.1" r="3.7"/><circle cx="1387.7" cy="781.4" r="3.7"/><circle cx="1414.5" cy="776.8" r="3.7"/><circle cx="1379.8" cy="781.2" r="3.7"/><circle cx="1390.5" cy="777.2" r="3.7"/><circle cx="1396.5" cy="772.7" r="3.7"/><circle cx="1413.8" cy="783.8" r="3.7"/><circle cx="1391.0" cy="784.3" r="3.7"/><circle cx="1409.1" cy="772.8" r="3.7"/></g>
<path d="M1165 680V701.5M1155.5 680H1174.5M1155.5 701.5H1174.5" stroke="#000" stroke-width="3" fill="none"/>
<rect x="1160.3" y="685.5" width="9.4" height="10" fill="#000"/>
<path d="M1225 727V742M1215.5 727H1234.5M1215.5 742H1234.5" stroke="#000" stroke-width="3" fill="none"/>
<rect x="1220.3" y="730" width="9.4" height="10" fill="#000"/>
<path d="M1285 741V750M1275.5 741H1294.5M1275.5 750H1294.5" stroke="#000" stroke-width="3" fill="none"/>
<rect x="1280.3" y="740.5" width="9.4" height="10" fill="#000"/>
<path d="M1343.5 775.8V781.2M1334.0 775.8H1353.0M1334.0 781.2H1353.0" stroke="#000" stroke-width="3" fill="none"/>
<rect x="1338.8" y="773.5" width="9.4" height="10" fill="#000"/>
<path d="M1405 776V782M1395.5 776H1414.5M1395.5 782H1414.5" stroke="#000" stroke-width="3" fill="none"/>
<rect x="1400.3" y="774" width="9.4" height="10" fill="#000"/>
<path d="M1101.5 686H1106" stroke="#1c1c1c" stroke-width="1.8"/>
<text x="1099.0" y="693.5" font-size="21" font-weight="bold" fill="#000" text-anchor="end" >88</text>
<path d="M1101.5 735H1106" stroke="#1c1c1c" stroke-width="1.8"/>
<text x="1099.0" y="742.5" font-size="21" font-weight="bold" fill="#000" text-anchor="end" >44</text>
<path d="M1101.5 786H1106" stroke="#1c1c1c" stroke-width="1.8"/>
<text x="1099.0" y="793.5" font-size="21" font-weight="bold" fill="#000" text-anchor="end" >0</text>
<path d="M1165 784V788" stroke="#1c1c1c" stroke-width="1.8"/>
<text x="1165.0" y="807.5" font-size="21.3" font-weight="bold" fill="#000" text-anchor="middle" >10</text>
<path d="M1225.5 784V788" stroke="#1c1c1c" stroke-width="1.8"/>
<text x="1226.0" y="807.5" font-size="21.3" font-weight="bold" fill="#000" text-anchor="middle" >8</text>
<path d="M1286 784V788" stroke="#1c1c1c" stroke-width="1.8"/>
<text x="1287.0" y="807.5" font-size="21.3" font-weight="bold" fill="#000" text-anchor="middle" >5</text>
<path d="M1345 784V788" stroke="#1c1c1c" stroke-width="1.8"/>
<text x="1345.5" y="807.5" font-size="21.3" font-weight="bold" fill="#000" text-anchor="middle" >3</text>
<path d="M1405 784V788" stroke="#1c1c1c" stroke-width="1.8"/>
<text x="1405.0" y="807.5" font-size="21.3" font-weight="bold" fill="#000" text-anchor="middle" >2</text>
<text x="-1.1" font-size="22" font-weight="bold" fill="#000" textLength="110.2" lengthAdjust="spacingAndGlyphs" transform="translate(1055,768.5) rotate(-90)" >Area (µm²)</text>
<rect x="1533" y="660.5" width="361.5" height="123.0" fill="#fff" stroke="#1c1c1c" stroke-width="2"/>
<g fill="#efe88a" fill-opacity="0.55" stroke="#e6dc62" stroke-opacity="0.6" stroke-width="1.2"><circle cx="1598.5" cy="718.3" r="3.7"/><circle cx="1573.3" cy="717.6" r="3.7"/><circle cx="1608.2" cy="724.5" r="3.7"/><circle cx="1604.4" cy="707.4" r="3.7"/><circle cx="1591.5" cy="699.0" r="3.7"/><circle cx="1570.9" cy="707.5" r="3.7"/><circle cx="1591.8" cy="691.0" r="3.7"/><circle cx="1574.3" cy="707.4" r="3.7"/><circle cx="1584.9" cy="725.9" r="3.7"/><circle cx="1587.9" cy="735.7" r="3.7"/><circle cx="1588.0" cy="727.7" r="3.7"/><circle cx="1580.5" cy="725.9" r="3.7"/><circle cx="1600.3" cy="725.2" r="3.7"/><circle cx="1613.5" cy="708.0" r="3.7"/><circle cx="1600.4" cy="707.3" r="3.7"/><circle cx="1592.6" cy="724.3" r="3.7"/><circle cx="1579.4" cy="707.3" r="3.7"/><circle cx="1596.2" cy="697.5" r="3.7"/><circle cx="1591.5" cy="708.7" r="3.7"/><circle cx="1591.3" cy="695.0" r="3.7"/><circle cx="1591.6" cy="734.6" r="3.7"/><circle cx="1606.5" cy="718.5" r="3.7"/><circle cx="1582.2" cy="715.0" r="3.7"/><circle cx="1610.6" cy="717.1" r="3.7"/><circle cx="1595.3" cy="727.4" r="3.7"/><circle cx="1564.6" cy="714.7" r="3.7"/><circle cx="1591.2" cy="686.5" r="3.7"/><circle cx="1584.0" cy="708.3" r="3.7"/><circle cx="1594.2" cy="716.2" r="3.7"/><circle cx="1602.8" cy="717.1" r="3.7"/><circle cx="1603.3" cy="726.6" r="3.7"/><circle cx="1585.4" cy="716.9" r="3.7"/><circle cx="1608.5" cy="707.8" r="3.7"/><circle cx="1618.8" cy="717.6" r="3.7"/><circle cx="1568.9" cy="717.3" r="3.7"/><circle cx="1591.5" cy="682.0" r="3.7"/><circle cx="1576.6" cy="727.6" r="3.7"/><circle cx="1595.5" cy="734.9" r="3.7"/><circle cx="1590.1" cy="716.2" r="3.7"/><circle cx="1577.4" cy="716.0" r="3.7"/><circle cx="1615.4" cy="717.3" r="3.7"/><circle cx="1587.5" cy="698.5" r="3.7"/><circle cx="1596.5" cy="707.7" r="3.7"/><circle cx="1587.6" cy="706.0" r="3.7"/></g>
<g fill="#c3c7e2" fill-opacity="0.55" stroke="#aeb3d6" stroke-opacity="0.6" stroke-width="1.2"><circle cx="1658.8" cy="740.6" r="3.7"/><circle cx="1662.7" cy="741.0" r="3.7"/><circle cx="1650.5" cy="750.3" r="3.7"/><circle cx="1637.8" cy="736.0" r="3.7"/><circle cx="1629.3" cy="745.9" r="3.7"/><circle cx="1659.7" cy="750.2" r="3.7"/><circle cx="1661.7" cy="732.6" r="3.7"/><circle cx="1633.0" cy="739.4" r="3.7"/><circle cx="1642.8" cy="740.4" r="3.7"/><circle cx="1650.3" cy="732.1" r="3.7"/><circle cx="1664.9" cy="750.3" r="3.7"/><circle cx="1669.4" cy="750.5" r="3.7"/><circle cx="1648.3" cy="744.3" r="3.7"/><circle cx="1653.5" cy="754.9" r="3.7"/><circle cx="1647.5" cy="741.5" r="3.7"/><circle cx="1657.4" cy="745.0" r="3.7"/><circle cx="1666.4" cy="745.5" r="3.7"/><circle cx="1637.5" cy="740.6" r="3.7"/><circle cx="1653.5" cy="741.0" r="3.7"/><circle cx="1673.8" cy="739.8" r="3.7"/><circle cx="1653.5" cy="723.5" r="3.7"/><circle cx="1644.3" cy="730.9" r="3.7"/><circle cx="1633.8" cy="744.6" r="3.7"/><circle cx="1662.6" cy="744.0" r="3.7"/><circle cx="1632.8" cy="735.9" r="3.7"/><circle cx="1678.3" cy="739.4" r="3.7"/><circle cx="1657.2" cy="726.9" r="3.7"/><circle cx="1673.3" cy="734.9" r="3.7"/><circle cx="1642.6" cy="737.1" r="3.7"/><circle cx="1681.5" cy="746.2" r="3.7"/><circle cx="1632.3" cy="750.7" r="3.7"/><circle cx="1647.7" cy="753.0" r="3.7"/><circle cx="1636.2" cy="749.4" r="3.7"/><circle cx="1644.3" cy="744.4" r="3.7"/><circle cx="1639.0" cy="744.7" r="3.7"/><circle cx="1676.3" cy="746.2" r="3.7"/><circle cx="1646.2" cy="735.1" r="3.7"/><circle cx="1674.2" cy="749.8" r="3.7"/><circle cx="1667.9" cy="741.1" r="3.7"/><circle cx="1646.0" cy="749.4" r="3.7"/><circle cx="1624.5" cy="746.2" r="3.7"/><circle cx="1658.5" cy="753.4" r="3.7"/><circle cx="1649.3" cy="728.0" r="3.7"/><circle cx="1627.6" cy="741.1" r="3.7"/><circle cx="1672.4" cy="743.8" r="3.7"/><circle cx="1642.0" cy="749.2" r="3.7"/><circle cx="1668.9" cy="736.0" r="3.7"/><circle cx="1663.6" cy="736.1" r="3.7"/><circle cx="1652.5" cy="745.5" r="3.7"/><circle cx="1651.4" cy="735.9" r="3.7"/><circle cx="1656.0" cy="748.8" r="3.7"/><circle cx="1653.3" cy="728.1" r="3.7"/><circle cx="1656.6" cy="730.4" r="3.7"/><circle cx="1658.9" cy="736.2" r="3.7"/><circle cx="1654.8" cy="735.1" r="3.7"/></g>
<g fill="#f1ceb0" fill-opacity="0.55" stroke="#eabb92" stroke-opacity="0.6" stroke-width="1.2"><circle cx="1705.6" cy="761.7" r="3.7"/><circle cx="1718.9" cy="766.7" r="3.7"/><circle cx="1737.6" cy="766.7" r="3.7"/><circle cx="1717.7" cy="772.8" r="3.7"/><circle cx="1711.7" cy="760.0" r="3.7"/><circle cx="1716.1" cy="766.9" r="3.7"/><circle cx="1714.5" cy="761.2" r="3.7"/><circle cx="1707.0" cy="773.2" r="3.7"/><circle cx="1719.8" cy="779.1" r="3.7"/><circle cx="1728.1" cy="773.2" r="3.7"/><circle cx="1710.6" cy="761.6" r="3.7"/><circle cx="1692.1" cy="773.8" r="3.7"/><circle cx="1733.0" cy="768.1" r="3.7"/><circle cx="1713.3" cy="772.4" r="3.7"/><circle cx="1716.3" cy="778.4" r="3.7"/><circle cx="1711.6" cy="777.8" r="3.7"/><circle cx="1695.9" cy="773.9" r="3.7"/><circle cx="1725.7" cy="767.9" r="3.7"/><circle cx="1722.5" cy="767.2" r="3.7"/><circle cx="1734.9" cy="774.0" r="3.7"/><circle cx="1704.7" cy="767.8" r="3.7"/><circle cx="1699.7" cy="772.2" r="3.7"/><circle cx="1721.5" cy="773.8" r="3.7"/><circle cx="1738.6" cy="772.2" r="3.7"/><circle cx="1698.3" cy="768.3" r="3.7"/><circle cx="1691.0" cy="766.4" r="3.7"/><circle cx="1724.4" cy="772.2" r="3.7"/><circle cx="1729.6" cy="768.3" r="3.7"/><circle cx="1710.6" cy="774.1" r="3.7"/><circle cx="1708.5" cy="767.2" r="3.7"/><circle cx="1731.5" cy="773.7" r="3.7"/><circle cx="1708.6" cy="779.5" r="3.7"/><circle cx="1685.3" cy="774.2" r="3.7"/><circle cx="1703.9" cy="774.0" r="3.7"/><circle cx="1688.9" cy="772.6" r="3.7"/><circle cx="1717.3" cy="762.0" r="3.7"/><circle cx="1694.2" cy="767.2" r="3.7"/><circle cx="1686.8" cy="767.7" r="3.7"/><circle cx="1704.4" cy="777.7" r="3.7"/><circle cx="1711.7" cy="767.9" r="3.7"/><circle cx="1701.9" cy="768.1" r="3.7"/></g>
<g fill="#de6a74" fill-opacity="0.55" stroke="#d64856" stroke-opacity="0.6" stroke-width="1.2"><circle cx="1783.4" cy="766.6" r="3.7"/><circle cx="1748.7" cy="777.0" r="3.7"/><circle cx="1801.1" cy="773.2" r="3.7"/><circle cx="1765.3" cy="768.9" r="3.7"/><circle cx="1763.6" cy="766.7" r="3.7"/><circle cx="1778.8" cy="766.1" r="3.7"/><circle cx="1770.8" cy="765.3" r="3.7"/><circle cx="1762.3" cy="770.3" r="3.7"/><circle cx="1789.4" cy="776.8" r="3.7"/><circle cx="1788.6" cy="769.4" r="3.7"/><circle cx="1767.6" cy="777.2" r="3.7"/><circle cx="1796.8" cy="773.2" r="3.7"/><circle cx="1753.0" cy="776.1" r="3.7"/><circle cx="1763.8" cy="776.5" r="3.7"/><circle cx="1754.9" cy="769.6" r="3.7"/><circle cx="1786.6" cy="777.3" r="3.7"/><circle cx="1782.5" cy="776.7" r="3.7"/><circle cx="1774.2" cy="773.4" r="3.7"/><circle cx="1792.1" cy="768.8" r="3.7"/><circle cx="1746.3" cy="770.0" r="3.7"/><circle cx="1777.9" cy="773.3" r="3.7"/><circle cx="1765.2" cy="779.5" r="3.7"/><circle cx="1760.5" cy="776.0" r="3.7"/><circle cx="1795.4" cy="769.9" r="3.7"/><circle cx="1773.6" cy="769.4" r="3.7"/><circle cx="1793.7" cy="775.7" r="3.7"/><circle cx="1781.0" cy="769.1" r="3.7"/><circle cx="1775.6" cy="765.9" r="3.7"/><circle cx="1786.2" cy="773.2" r="3.7"/><circle cx="1758.6" cy="769.7" r="3.7"/><circle cx="1781.7" cy="772.2" r="3.7"/><circle cx="1751.2" cy="770.3" r="3.7"/><circle cx="1771.4" cy="775.9" r="3.7"/><circle cx="1763.1" cy="773.5" r="3.7"/><circle cx="1773.7" cy="779.2" r="3.7"/><circle cx="1776.4" cy="780.4" r="3.7"/><circle cx="1789.8" cy="773.4" r="3.7"/><circle cx="1767.3" cy="766.3" r="3.7"/><circle cx="1767.6" cy="772.5" r="3.7"/><circle cx="1793.5" cy="772.4" r="3.7"/><circle cx="1745.4" cy="773.5" r="3.7"/><circle cx="1759.8" cy="773.0" r="3.7"/><circle cx="1755.8" cy="775.7" r="3.7"/><circle cx="1781.1" cy="779.7" r="3.7"/><circle cx="1756.6" cy="773.5" r="3.7"/><circle cx="1799.6" cy="769.0" r="3.7"/><circle cx="1776.7" cy="768.9" r="3.7"/><circle cx="1768.9" cy="779.4" r="3.7"/><circle cx="1749.7" cy="772.3" r="3.7"/><circle cx="1752.9" cy="773.7" r="3.7"/><circle cx="1783.7" cy="768.8" r="3.7"/><circle cx="1778.4" cy="776.9" r="3.7"/><circle cx="1797.9" cy="776.3" r="3.7"/><circle cx="1771.8" cy="772.5" r="3.7"/><circle cx="1774.8" cy="776.0" r="3.7"/><circle cx="1769.6" cy="770.2" r="3.7"/></g>
<g fill="#86d0ee" fill-opacity="0.55" stroke="#58bfe8" stroke-opacity="0.6" stroke-width="1.2"><circle cx="1841.3" cy="778.9" r="3.7"/><circle cx="1823.2" cy="778.8" r="3.7"/><circle cx="1854.5" cy="779.5" r="3.7"/><circle cx="1833.7" cy="764.0" r="3.7"/><circle cx="1808.3" cy="775.0" r="3.7"/><circle cx="1833.4" cy="782.7" r="3.7"/><circle cx="1851.3" cy="775.0" r="3.7"/><circle cx="1835.8" cy="778.4" r="3.7"/><circle cx="1849.9" cy="779.5" r="3.7"/><circle cx="1809.3" cy="778.5" r="3.7"/><circle cx="1813.6" cy="782.8" r="3.7"/><circle cx="1841.5" cy="774.9" r="3.7"/><circle cx="1856.2" cy="776.1" r="3.7"/><circle cx="1822.1" cy="775.3" r="3.7"/><circle cx="1840.1" cy="771.9" r="3.7"/><circle cx="1853.7" cy="782.3" r="3.7"/><circle cx="1827.9" cy="779.8" r="3.7"/><circle cx="1818.5" cy="783.4" r="3.7"/><circle cx="1834.6" cy="769.0" r="3.7"/><circle cx="1817.8" cy="775.1" r="3.7"/><circle cx="1831.3" cy="779.2" r="3.7"/><circle cx="1823.7" cy="782.3" r="3.7"/><circle cx="1817.7" cy="779.0" r="3.7"/><circle cx="1835.9" cy="776.0" r="3.7"/><circle cx="1827.0" cy="776.2" r="3.7"/><circle cx="1838.3" cy="783.1" r="3.7"/><circle cx="1845.8" cy="778.8" r="3.7"/><circle cx="1846.5" cy="776.0" r="3.7"/><circle cx="1834.0" cy="766.5" r="3.7"/><circle cx="1859.1" cy="779.9" r="3.7"/><circle cx="1812.2" cy="776.2" r="3.7"/><circle cx="1828.2" cy="770.7" r="3.7"/><circle cx="1831.0" cy="774.5" r="3.7"/><circle cx="1849.5" cy="783.5" r="3.7"/><circle cx="1833.8" cy="770.9" r="3.7"/><circle cx="1813.4" cy="779.3" r="3.7"/><circle cx="1863.1" cy="779.4" r="3.7"/><circle cx="1805.1" cy="779.0" r="3.7"/><circle cx="1828.8" cy="783.6" r="3.7"/><circle cx="1844.1" cy="783.4" r="3.7"/><circle cx="1860.2" cy="774.6" r="3.7"/></g>
<path d="M1592 701V728M1582.5 701H1601.5M1582.5 728H1601.5" stroke="#000" stroke-width="3" fill="none"/>
<rect x="1587.3" y="709" width="9.4" height="10" fill="#000"/>
<path d="M1653 733V750M1643.5 733H1662.5M1643.5 750H1662.5" stroke="#000" stroke-width="3" fill="none"/>
<rect x="1648.3" y="736.5" width="9.4" height="10" fill="#000"/>
<path d="M1712 766V774M1702.5 766H1721.5M1702.5 774H1721.5" stroke="#000" stroke-width="3" fill="none"/>
<rect x="1707.3" y="765" width="9.4" height="10" fill="#000"/>
<path d="M1773 770.5V777.5M1763.5 770.5H1782.5M1763.5 777.5H1782.5" stroke="#000" stroke-width="3" fill="none"/>
<rect x="1768.3" y="769" width="9.4" height="10" fill="#000"/>
<path d="M1834 773V782M1824.5 773H1843.5M1824.5 782H1843.5" stroke="#000" stroke-width="3" fill="none"/>
<rect x="1829.3" y="773" width="9.4" height="10" fill="#000"/>
<path d="M1528.5 685H1533" stroke="#1c1c1c" stroke-width="1.8"/>
<text x="1526.5" y="692.5" font-size="21" font-weight="bold" fill="#000" text-anchor="end" >88</text>
<path d="M1528.5 735H1533" stroke="#1c1c1c" stroke-width="1.8"/>
<text x="1526.5" y="742.5" font-size="21" font-weight="bold" fill="#000" text-anchor="end" >44</text>
<path d="M1528.5 787H1533" stroke="#1c1c1c" stroke-width="1.8"/>
<text x="1526.5" y="794.5" font-size="21" font-weight="bold" fill="#000" text-anchor="end" >0</text>
<path d="M1592 783.5V787.5" stroke="#1c1c1c" stroke-width="1.8"/>
<text x="1592.0" y="807.5" font-size="21.3" font-weight="bold" fill="#000" text-anchor="middle" >10</text>
<path d="M1653 783.5V787.5" stroke="#1c1c1c" stroke-width="1.8"/>
<text x="1653.0" y="807.5" font-size="21.3" font-weight="bold" fill="#000" text-anchor="middle" >8</text>
<path d="M1714 783.5V787.5" stroke="#1c1c1c" stroke-width="1.8"/>
<text x="1714.0" y="807.5" font-size="21.3" font-weight="bold" fill="#000" text-anchor="middle" >5</text>
<path d="M1773 783.5V787.5" stroke="#1c1c1c" stroke-width="1.8"/>
<text x="1773.0" y="807.5" font-size="21.3" font-weight="bold" fill="#000" text-anchor="middle" >3</text>
<path d="M1833.5 783.5V787.5" stroke="#1c1c1c" stroke-width="1.8"/>
<text x="1833.5" y="807.5" font-size="21.3" font-weight="bold" fill="#000" text-anchor="middle" >2</text>
<rect x="1108" y="839.5" width="360.5" height="123.89999999999998" fill="#fff" stroke="#1c1c1c" stroke-width="2"/>
<g fill="#efe88a" fill-opacity="0.55" stroke="#e6dc62" stroke-opacity="0.6" stroke-width="1.2"><circle cx="1168.0" cy="926.5" r="3.7"/><circle cx="1170.4" cy="913.7" r="3.7"/><circle cx="1172.4" cy="941.4" r="3.7"/><circle cx="1150.2" cy="929.1" r="3.7"/><circle cx="1181.7" cy="927.8" r="3.7"/><circle cx="1171.9" cy="906.6" r="3.7"/><circle cx="1187.6" cy="929.4" r="3.7"/><circle cx="1166.2" cy="922.2" r="3.7"/><circle cx="1163.2" cy="927.5" r="3.7"/><circle cx="1157.8" cy="921.9" r="3.7"/><circle cx="1165.0" cy="907.9" r="3.7"/><circle cx="1187.3" cy="922.8" r="3.7"/><circle cx="1178.0" cy="928.4" r="3.7"/><circle cx="1174.9" cy="922.6" r="3.7"/><circle cx="1180.7" cy="934.2" r="3.7"/><circle cx="1179.3" cy="921.1" r="3.7"/><circle cx="1170.8" cy="935.4" r="3.7"/><circle cx="1161.7" cy="922.1" r="3.7"/><circle cx="1148.4" cy="921.3" r="3.7"/><circle cx="1170.1" cy="920.8" r="3.7"/><circle cx="1155.0" cy="913.4" r="3.7"/><circle cx="1163.7" cy="941.5" r="3.7"/><circle cx="1176.8" cy="913.1" r="3.7"/><circle cx="1154.4" cy="928.5" r="3.7"/><circle cx="1155.4" cy="935.3" r="3.7"/><circle cx="1181.3" cy="913.3" r="3.7"/><circle cx="1152.7" cy="920.9" r="3.7"/><circle cx="1168.8" cy="941.1" r="3.7"/><circle cx="1176.0" cy="935.2" r="3.7"/><circle cx="1160.1" cy="915.8" r="3.7"/><circle cx="1183.1" cy="920.5" r="3.7"/><circle cx="1168.1" cy="897.0" r="3.7"/><circle cx="1158.7" cy="927.7" r="3.7"/><circle cx="1160.8" cy="933.7" r="3.7"/><circle cx="1165.8" cy="934.7" r="3.7"/><circle cx="1168.6" cy="908.8" r="3.7"/><circle cx="1173.5" cy="926.5" r="3.7"/><circle cx="1166.1" cy="913.4" r="3.7"/><circle cx="1167.8" cy="891.0" r="3.7"/></g>
<g fill="#c3c7e2" fill-opacity="0.55" stroke="#aeb3d6" stroke-opacity="0.6" stroke-width="1.2"><circle cx="1236.6" cy="923.1" r="3.7"/><circle cx="1208.5" cy="926.5" r="3.7"/><circle cx="1227.8" cy="934.4" r="3.7"/><circle cx="1226.0" cy="930.0" r="3.7"/><circle cx="1230.1" cy="922.0" r="3.7"/><circle cx="1218.8" cy="927.5" r="3.7"/><circle cx="1235.6" cy="931.0" r="3.7"/><circle cx="1213.5" cy="927.6" r="3.7"/><circle cx="1227.7" cy="914.5" r="3.7"/><circle cx="1225.2" cy="910.3" r="3.7"/><circle cx="1216.3" cy="930.5" r="3.7"/><circle cx="1241.8" cy="918.5" r="3.7"/><circle cx="1214.4" cy="918.8" r="3.7"/><circle cx="1219.9" cy="914.5" r="3.7"/><circle cx="1233.3" cy="918.0" r="3.7"/><circle cx="1230.9" cy="910.6" r="3.7"/><circle cx="1218.2" cy="919.6" r="3.7"/><circle cx="1246.9" cy="927.2" r="3.7"/><circle cx="1209.2" cy="923.4" r="3.7"/><circle cx="1223.3" cy="927.0" r="3.7"/><circle cx="1219.3" cy="924.1" r="3.7"/><circle cx="1228.1" cy="919.8" r="3.7"/><circle cx="1215.1" cy="922.5" r="3.7"/><circle cx="1232.3" cy="914.8" r="3.7"/><circle cx="1227.6" cy="927.4" r="3.7"/><circle cx="1247.1" cy="923.6" r="3.7"/><circle cx="1240.6" cy="931.2" r="3.7"/><circle cx="1224.0" cy="915.5" r="3.7"/><circle cx="1233.0" cy="927.0" r="3.7"/><circle cx="1237.3" cy="918.0" r="3.7"/><circle cx="1221.4" cy="930.9" r="3.7"/><circle cx="1236.7" cy="914.6" r="3.7"/><circle cx="1223.8" cy="934.7" r="3.7"/><circle cx="1230.1" cy="930.0" r="3.7"/><circle cx="1231.5" cy="935.3" r="3.7"/><circle cx="1237.9" cy="928.0" r="3.7"/><circle cx="1223.9" cy="919.4" r="3.7"/><circle cx="1225.7" cy="923.1" r="3.7"/><circle cx="1243.0" cy="926.2" r="3.7"/><circle cx="1241.9" cy="923.6" r="3.7"/></g>
<g fill="#f1ceb0" fill-opacity="0.55" stroke="#eabb92" stroke-opacity="0.6" stroke-width="1.2"><circle cx="1284.8" cy="937.2" r="3.7"/><circle cx="1286.8" cy="898.0" r="3.7"/><circle cx="1277.5" cy="948.4" r="3.7"/><circle cx="1275.7" cy="932.2" r="3.7"/><circle cx="1289.1" cy="943.8" r="3.7"/><circle cx="1305.3" cy="939.7" r="3.7"/><circle cx="1305.2" cy="944.0" r="3.7"/><circle cx="1297.6" cy="935.7" r="3.7"/><circle cx="1292.6" cy="945.0" r="3.7"/><circle cx="1293.4" cy="927.8" r="3.7"/><circle cx="1293.1" cy="936.8" r="3.7"/><circle cx="1282.8" cy="924.1" r="3.7"/><circle cx="1285.9" cy="953.5" r="3.7"/><circle cx="1292.5" cy="941.6" r="3.7"/><circle cx="1288.5" cy="941.0" r="3.7"/><circle cx="1279.8" cy="936.8" r="3.7"/><circle cx="1295.1" cy="949.5" r="3.7"/><circle cx="1301.3" cy="943.9" r="3.7"/><circle cx="1297.7" cy="941.5" r="3.7"/><circle cx="1297.2" cy="931.9" r="3.7"/><circle cx="1272.5" cy="948.3" r="3.7"/><circle cx="1284.6" cy="945.0" r="3.7"/><circle cx="1284.0" cy="927.3" r="3.7"/><circle cx="1285.5" cy="916.0" r="3.7"/><circle cx="1275.9" cy="940.2" r="3.7"/><circle cx="1279.3" cy="927.7" r="3.7"/><circle cx="1288.9" cy="933.3" r="3.7"/><circle cx="1281.8" cy="953.1" r="3.7"/><circle cx="1300.7" cy="936.6" r="3.7"/><circle cx="1287.2" cy="924.4" r="3.7"/><circle cx="1280.1" cy="945.0" r="3.7"/><circle cx="1282.1" cy="948.0" r="3.7"/><circle cx="1291.0" cy="925.0" r="3.7"/><circle cx="1302.1" cy="940.5" r="3.7"/><circle cx="1271.9" cy="941.2" r="3.7"/><circle cx="1276.1" cy="936.1" r="3.7"/><circle cx="1280.2" cy="931.7" r="3.7"/><circle cx="1283.7" cy="940.6" r="3.7"/><circle cx="1271.4" cy="935.7" r="3.7"/><circle cx="1288.6" cy="927.1" r="3.7"/><circle cx="1286.6" cy="949.5" r="3.7"/><circle cx="1297.0" cy="944.6" r="3.7"/><circle cx="1271.8" cy="945.5" r="3.7"/><circle cx="1290.6" cy="953.6" r="3.7"/><circle cx="1293.0" cy="932.9" r="3.7"/><circle cx="1268.1" cy="945.2" r="3.7"/><circle cx="1291.8" cy="949.3" r="3.7"/><circle cx="1279.7" cy="941.0" r="3.7"/><circle cx="1284.7" cy="932.5" r="3.7"/><circle cx="1288.3" cy="937.0" r="3.7"/><circle cx="1275.5" cy="945.1" r="3.7"/><circle cx="1300.7" cy="948.9" r="3.7"/><circle cx="1267.3" cy="940.8" r="3.7"/></g>
<g fill="#de6a74" fill-opacity="0.55" stroke="#d64856" stroke-opacity="0.6" stroke-width="1.2"><circle cx="1342.9" cy="939.7" r="3.7"/><circle cx="1335.1" cy="909.4" r="3.7"/><circle cx="1347.4" cy="889.0" r="3.7"/><circle cx="1340.4" cy="915.5" r="3.7"/><circle cx="1343.9" cy="898.5" r="3.7"/><circle cx="1361.0" cy="907.0" r="3.7"/><circle cx="1348.1" cy="933.8" r="3.7"/><circle cx="1347.1" cy="940.5" r="3.7"/><circle cx="1350.6" cy="908.7" r="3.7"/><circle cx="1353.0" cy="942.5" r="3.7"/><circle cx="1332.1" cy="917.7" r="3.7"/><circle cx="1327.7" cy="923.9" r="3.7"/><circle cx="1354.4" cy="925.3" r="3.7"/><circle cx="1342.9" cy="931.7" r="3.7"/><circle cx="1347.9" cy="901.6" r="3.7"/><circle cx="1355.6" cy="909.5" r="3.7"/><circle cx="1336.7" cy="926.4" r="3.7"/><circle cx="1349.7" cy="923.3" r="3.7"/><circle cx="1354.2" cy="916.7" r="3.7"/><circle cx="1341.7" cy="923.5" r="3.7"/><circle cx="1367.3" cy="924.4" r="3.7"/><circle cx="1358.4" cy="916.9" r="3.7"/><circle cx="1345.7" cy="909.8" r="3.7"/><circle cx="1334.4" cy="932.2" r="3.7"/><circle cx="1338.4" cy="933.9" r="3.7"/><circle cx="1336.6" cy="917.9" r="3.7"/><circle cx="1349.2" cy="914.6" r="3.7"/><circle cx="1340.1" cy="907.7" r="3.7"/><circle cx="1362.5" cy="918.1" r="3.7"/><circle cx="1351.4" cy="901.4" r="3.7"/><circle cx="1367.0" cy="915.0" r="3.7"/><circle cx="1363.4" cy="923.7" r="3.7"/><circle cx="1332.0" cy="922.9" r="3.7"/><circle cx="1358.0" cy="924.8" r="3.7"/><circle cx="1346.1" cy="926.3" r="3.7"/><circle cx="1352.5" cy="932.5" r="3.7"/><circle cx="1356.6" cy="932.7" r="3.7"/><circle cx="1327.2" cy="916.8" r="3.7"/><circle cx="1345.0" cy="918.2" r="3.7"/><circle cx="1361.3" cy="934.5" r="3.7"/></g>
<g fill="#86d0ee" fill-opacity="0.55" stroke="#58bfe8" stroke-opacity="0.6" stroke-width="1.2"><circle cx="1401.3" cy="902.6" r="3.7"/><circle cx="1410.0" cy="911.6" r="3.7"/><circle cx="1403.4" cy="919.5" r="3.7"/><circle cx="1409.4" cy="868.0" r="3.7"/><circle cx="1409.0" cy="899.0" r="3.7"/><circle cx="1409.9" cy="884.0" r="3.7"/><circle cx="1409.7" cy="894.0" r="3.7"/><circle cx="1410.8" cy="919.5" r="3.7"/><circle cx="1394.7" cy="913.2" r="3.7"/><circle cx="1409.4" cy="860.5" r="3.7"/><circle cx="1410.0" cy="934.4" r="3.7"/><circle cx="1418.9" cy="919.9" r="3.7"/><circle cx="1390.7" cy="912.6" r="3.7"/><circle cx="1427.8" cy="910.9" r="3.7"/><circle cx="1407.8" cy="918.6" r="3.7"/><circle cx="1413.5" cy="912.0" r="3.7"/><circle cx="1414.2" cy="928.8" r="3.7"/><circle cx="1421.7" cy="903.0" r="3.7"/><circle cx="1409.7" cy="902.7" r="3.7"/><circle cx="1399.3" cy="911.0" r="3.7"/><circle cx="1417.3" cy="903.2" r="3.7"/><circle cx="1409.8" cy="864.0" r="3.7"/><circle cx="1408.9" cy="928.6" r="3.7"/><circle cx="1410.2" cy="878.0" r="3.7"/><circle cx="1409.4" cy="873.0" r="3.7"/><circle cx="1413.6" cy="936.2" r="3.7"/><circle cx="1405.3" cy="902.8" r="3.7"/><circle cx="1409.8" cy="889.0" r="3.7"/><circle cx="1418.4" cy="911.4" r="3.7"/><circle cx="1415.1" cy="918.2" r="3.7"/><circle cx="1397.6" cy="904.1" r="3.7"/><circle cx="1413.0" cy="904.6" r="3.7"/><circle cx="1395.2" cy="919.8" r="3.7"/><circle cx="1423.8" cy="917.8" r="3.7"/><circle cx="1404.4" cy="925.8" r="3.7"/><circle cx="1423.3" cy="912.7" r="3.7"/><circle cx="1399.7" cy="927.8" r="3.7"/><circle cx="1399.1" cy="920.8" r="3.7"/><circle cx="1404.5" cy="912.8" r="3.7"/><circle cx="1418.7" cy="927.4" r="3.7"/><circle cx="1405.2" cy="935.9" r="3.7"/></g>
<path d="M1168.3 909.6V939.2M1158.8 909.6H1177.8M1158.8 939.2H1177.8" stroke="#000" stroke-width="3" fill="none"/>
<rect x="1163.6" y="918.8" width="9.4" height="10" fill="#000"/>
<path d="M1228 916.3V931.7M1218.5 916.3H1237.5M1218.5 931.7H1237.5" stroke="#000" stroke-width="3" fill="none"/>
<rect x="1223.3" y="918.4" width="9.4" height="10" fill="#000"/>
<path d="M1286.5 922.7V949M1277.0 922.7H1296.0M1277.0 949H1296.0" stroke="#000" stroke-width="3" fill="none"/>
<rect x="1281.8" y="930.8" width="9.4" height="10" fill="#000"/>
<path d="M1347.6 904V937.4M1338.1 904H1357.1M1338.1 937.4H1357.1" stroke="#000" stroke-width="3" fill="none"/>
<rect x="1342.8999999999999" y="915.9" width="9.4" height="10" fill="#000"/>
<path d="M1409.3 874.5V936.2M1399.8 874.5H1418.8M1399.8 936.2H1418.8" stroke="#000" stroke-width="3" fill="none"/>
<rect x="1404.6" y="900.7" width="9.4" height="10" fill="#000"/>
<path d="M1103.5 841H1108" stroke="#1c1c1c" stroke-width="1.8"/>
<text x="1101.0" y="848.5" font-size="21" font-weight="bold" fill="#000" text-anchor="end" >30</text>
<path d="M1103.5 881.5H1108" stroke="#1c1c1c" stroke-width="1.8"/>
<text x="1101.0" y="889.0" font-size="21" font-weight="bold" fill="#000" text-anchor="end" >20</text>
<path d="M1103.5 922H1108" stroke="#1c1c1c" stroke-width="1.8"/>
<text x="1101.0" y="929.5" font-size="21" font-weight="bold" fill="#000" text-anchor="end" >10</text>
<path d="M1103.5 965.6H1108" stroke="#1c1c1c" stroke-width="1.8"/>
<text x="1101.0" y="973.1" font-size="21" font-weight="bold" fill="#000" text-anchor="end" >0</text>
<path d="M1168 963.4V967.4" stroke="#1c1c1c" stroke-width="1.8"/>
<text x="1165.5" y="986.5" font-size="21.3" font-weight="bold" fill="#000" text-anchor="middle" >10</text>
<path d="M1228 963.4V967.4" stroke="#1c1c1c" stroke-width="1.8"/>
<text x="1229.0" y="986.5" font-size="21.3" font-weight="bold" fill="#000" text-anchor="middle" >8</text>
<path d="M1287 963.4V967.4" stroke="#1c1c1c" stroke-width="1.8"/>
<text x="1290.0" y="986.5" font-size="21.3" font-weight="bold" fill="#000" text-anchor="middle" >5</text>
<path d="M1347.5 963.4V967.4" stroke="#1c1c1c" stroke-width="1.8"/>
<text x="1348.5" y="986.5" font-size="21.3" font-weight="bold" fill="#000" text-anchor="middle" >3</text>
<path d="M1409 963.4V967.4" stroke="#1c1c1c" stroke-width="1.8"/>
<text x="1408.0" y="986.5" font-size="21.3" font-weight="bold" fill="#000" text-anchor="middle" >2</text>
<text x="-1.1" font-size="22" font-weight="bold" fill="#000" textLength="119.7" lengthAdjust="spacingAndGlyphs" transform="translate(1054,956.6) rotate(-90)" >Height (nm)</text>
<rect x="1535" y="840.6" width="361" height="123.39999999999998" fill="#fff" stroke="#1c1c1c" stroke-width="2"/>
<g fill="#efe88a" fill-opacity="0.55" stroke="#e6dc62" stroke-opacity="0.6" stroke-width="1.2"><circle cx="1585.5" cy="940.0" r="3.7"/><circle cx="1616.7" cy="940.3" r="3.7"/><circle cx="1605.4" cy="942.8" r="3.7"/><circle cx="1610.1" cy="943.1" r="3.7"/><circle cx="1601.1" cy="933.1" r="3.7"/><circle cx="1612.5" cy="937.3" r="3.7"/><circle cx="1593.0" cy="946.9" r="3.7"/><circle cx="1605.7" cy="933.6" r="3.7"/><circle cx="1597.2" cy="926.7" r="3.7"/><circle cx="1601.2" cy="944.0" r="3.7"/><circle cx="1596.6" cy="950.5" r="3.7"/><circle cx="1590.9" cy="937.4" r="3.7"/><circle cx="1593.3" cy="944.3" r="3.7"/><circle cx="1603.4" cy="929.2" r="3.7"/><circle cx="1589.1" cy="943.9" r="3.7"/><circle cx="1604.2" cy="936.3" r="3.7"/><circle cx="1595.0" cy="939.5" r="3.7"/><circle cx="1596.4" cy="947.1" r="3.7"/><circle cx="1599.8" cy="936.5" r="3.7"/><circle cx="1581.3" cy="936.9" r="3.7"/><circle cx="1595.3" cy="929.5" r="3.7"/><circle cx="1616.7" cy="937.0" r="3.7"/><circle cx="1612.5" cy="940.4" r="3.7"/><circle cx="1598.8" cy="930.4" r="3.7"/><circle cx="1581.3" cy="940.2" r="3.7"/><circle cx="1608.4" cy="936.0" r="3.7"/><circle cx="1607.3" cy="940.4" r="3.7"/><circle cx="1597.5" cy="933.5" r="3.7"/><circle cx="1604.0" cy="939.8" r="3.7"/><circle cx="1592.5" cy="933.6" r="3.7"/><circle cx="1584.8" cy="943.3" r="3.7"/><circle cx="1587.9" cy="933.7" r="3.7"/><circle cx="1594.5" cy="936.7" r="3.7"/><circle cx="1577.5" cy="936.4" r="3.7"/><circle cx="1597.5" cy="943.6" r="3.7"/><circle cx="1578.0" cy="941.0" r="3.7"/><circle cx="1590.0" cy="939.6" r="3.7"/><circle cx="1597.1" cy="954.0" r="3.7"/><circle cx="1585.6" cy="937.0" r="3.7"/><circle cx="1598.7" cy="939.4" r="3.7"/><circle cx="1591.6" cy="930.6" r="3.7"/><circle cx="1583.7" cy="934.1" r="3.7"/><circle cx="1601.1" cy="947.5" r="3.7"/><circle cx="1609.7" cy="933.3" r="3.7"/></g>
<g fill="#c3c7e2" fill-opacity="0.55" stroke="#aeb3d6" stroke-opacity="0.6" stroke-width="1.2"><circle cx="1676.5" cy="947.3" r="3.7"/><circle cx="1644.3" cy="940.5" r="3.7"/><circle cx="1653.8" cy="947.0" r="3.7"/><circle cx="1658.3" cy="931.7" r="3.7"/><circle cx="1639.4" cy="947.7" r="3.7"/><circle cx="1651.8" cy="940.4" r="3.7"/><circle cx="1659.7" cy="944.0" r="3.7"/><circle cx="1663.9" cy="933.2" r="3.7"/><circle cx="1656.3" cy="941.4" r="3.7"/><circle cx="1658.0" cy="951.5" r="3.7"/><circle cx="1641.9" cy="943.9" r="3.7"/><circle cx="1670.9" cy="941.3" r="3.7"/><circle cx="1663.5" cy="943.6" r="3.7"/><circle cx="1672.8" cy="948.4" r="3.7"/><circle cx="1655.5" cy="934.2" r="3.7"/><circle cx="1677.1" cy="944.1" r="3.7"/><circle cx="1648.3" cy="940.9" r="3.7"/><circle cx="1638.5" cy="944.0" r="3.7"/><circle cx="1664.9" cy="951.3" r="3.7"/><circle cx="1649.4" cy="944.9" r="3.7"/><circle cx="1667.9" cy="950.3" r="3.7"/><circle cx="1651.0" cy="947.8" r="3.7"/><circle cx="1647.7" cy="950.7" r="3.7"/><circle cx="1666.8" cy="944.7" r="3.7"/><circle cx="1656.7" cy="943.5" r="3.7"/><circle cx="1654.8" cy="951.2" r="3.7"/><circle cx="1663.9" cy="940.8" r="3.7"/><circle cx="1668.1" cy="937.8" r="3.7"/><circle cx="1664.6" cy="937.4" r="3.7"/><circle cx="1651.4" cy="936.8" r="3.7"/><circle cx="1646.1" cy="944.1" r="3.7"/><circle cx="1661.4" cy="937.7" r="3.7"/><circle cx="1653.2" cy="945.0" r="3.7"/><circle cx="1674.1" cy="941.2" r="3.7"/><circle cx="1671.7" cy="950.6" r="3.7"/><circle cx="1647.3" cy="936.8" r="3.7"/><circle cx="1651.2" cy="951.2" r="3.7"/><circle cx="1661.3" cy="947.2" r="3.7"/><circle cx="1668.3" cy="947.1" r="3.7"/><circle cx="1661.3" cy="951.3" r="3.7"/><circle cx="1654.0" cy="938.1" r="3.7"/><circle cx="1647.7" cy="947.3" r="3.7"/><circle cx="1659.4" cy="941.2" r="3.7"/><circle cx="1640.6" cy="940.5" r="3.7"/><circle cx="1673.7" cy="944.8" r="3.7"/><circle cx="1644.0" cy="947.0" r="3.7"/><circle cx="1660.3" cy="934.0" r="3.7"/><circle cx="1669.7" cy="943.7" r="3.7"/><circle cx="1651.3" cy="934.5" r="3.7"/><circle cx="1667.7" cy="941.2" r="3.7"/><circle cx="1658.5" cy="933.9" r="3.7"/><circle cx="1658.0" cy="946.9" r="3.7"/><circle cx="1657.6" cy="937.4" r="3.7"/><circle cx="1644.4" cy="950.6" r="3.7"/><circle cx="1665.3" cy="948.1" r="3.7"/></g>
<g fill="#f1ceb0" fill-opacity="0.55" stroke="#eabb92" stroke-opacity="0.6" stroke-width="1.2"><circle cx="1722.6" cy="942.2" r="3.7"/><circle cx="1734.2" cy="945.6" r="3.7"/><circle cx="1710.0" cy="948.3" r="3.7"/><circle cx="1710.7" cy="944.2" r="3.7"/><circle cx="1697.6" cy="948.6" r="3.7"/><circle cx="1724.9" cy="952.5" r="3.7"/><circle cx="1705.7" cy="942.3" r="3.7"/><circle cx="1726.1" cy="944.5" r="3.7"/><circle cx="1705.8" cy="948.5" r="3.7"/><circle cx="1707.2" cy="945.4" r="3.7"/><circle cx="1717.0" cy="952.2" r="3.7"/><circle cx="1723.7" cy="948.3" r="3.7"/><circle cx="1699.2" cy="945.6" r="3.7"/><circle cx="1720.8" cy="938.3" r="3.7"/><circle cx="1719.1" cy="948.1" r="3.7"/><circle cx="1702.1" cy="948.8" r="3.7"/><circle cx="1735.7" cy="949.1" r="3.7"/><circle cx="1718.3" cy="945.4" r="3.7"/><circle cx="1708.7" cy="951.3" r="3.7"/><circle cx="1703.8" cy="944.2" r="3.7"/><circle cx="1738.1" cy="945.0" r="3.7"/><circle cx="1731.1" cy="948.2" r="3.7"/><circle cx="1730.3" cy="945.0" r="3.7"/><circle cx="1721.0" cy="952.0" r="3.7"/><circle cx="1713.2" cy="951.8" r="3.7"/><circle cx="1702.4" cy="941.8" r="3.7"/><circle cx="1709.2" cy="938.7" r="3.7"/><circle cx="1716.6" cy="935.8" r="3.7"/><circle cx="1726.7" cy="948.5" r="3.7"/><circle cx="1727.6" cy="942.3" r="3.7"/><circle cx="1732.2" cy="941.6" r="3.7"/><circle cx="1724.6" cy="938.3" r="3.7"/><circle cx="1696.4" cy="945.1" r="3.7"/><circle cx="1722.7" cy="945.6" r="3.7"/><circle cx="1712.5" cy="938.2" r="3.7"/><circle cx="1714.9" cy="941.0" r="3.7"/><circle cx="1710.0" cy="942.3" r="3.7"/><circle cx="1719.6" cy="942.3" r="3.7"/><circle cx="1716.5" cy="938.8" r="3.7"/><circle cx="1715.5" cy="944.7" r="3.7"/><circle cx="1715.0" cy="949.0" r="3.7"/></g>
<g fill="#de6a74" fill-opacity="0.55" stroke="#d64856" stroke-opacity="0.6" stroke-width="1.2"><circle cx="1760.0" cy="948.8" r="3.7"/><circle cx="1776.2" cy="934.4" r="3.7"/><circle cx="1775.0" cy="957.9" r="3.7"/><circle cx="1781.0" cy="938.6" r="3.7"/><circle cx="1782.4" cy="957.8" r="3.7"/><circle cx="1772.2" cy="943.4" r="3.7"/><circle cx="1782.5" cy="931.1" r="3.7"/><circle cx="1785.5" cy="935.2" r="3.7"/><circle cx="1777.8" cy="926.0" r="3.7"/><circle cx="1787.2" cy="929.5" r="3.7"/><circle cx="1774.3" cy="926.6" r="3.7"/><circle cx="1774.1" cy="953.5" r="3.7"/><circle cx="1789.5" cy="935.0" r="3.7"/><circle cx="1765.3" cy="951.5" r="3.7"/><circle cx="1771.1" cy="939.2" r="3.7"/><circle cx="1778.6" cy="909.0" r="3.7"/><circle cx="1782.4" cy="949.0" r="3.7"/><circle cx="1782.2" cy="951.8" r="3.7"/><circle cx="1770.1" cy="952.5" r="3.7"/><circle cx="1784.9" cy="944.4" r="3.7"/><circle cx="1774.8" cy="930.8" r="3.7"/><circle cx="1775.7" cy="938.6" r="3.7"/><circle cx="1765.1" cy="948.1" r="3.7"/><circle cx="1765.0" cy="943.1" r="3.7"/><circle cx="1791.5" cy="947.7" r="3.7"/><circle cx="1779.0" cy="930.4" r="3.7"/><circle cx="1767.9" cy="939.3" r="3.7"/><circle cx="1788.0" cy="948.1" r="3.7"/><circle cx="1791.2" cy="951.6" r="3.7"/><circle cx="1760.8" cy="942.9" r="3.7"/><circle cx="1794.0" cy="938.5" r="3.7"/><circle cx="1770.3" cy="929.5" r="3.7"/><circle cx="1796.8" cy="948.4" r="3.7"/><circle cx="1770.9" cy="935.4" r="3.7"/><circle cx="1789.5" cy="939.3" r="3.7"/><circle cx="1785.2" cy="939.3" r="3.7"/><circle cx="1781.3" cy="935.9" r="3.7"/><circle cx="1778.4" cy="948.2" r="3.7"/><circle cx="1782.0" cy="926.4" r="3.7"/><circle cx="1777.8" cy="919.5" r="3.7"/><circle cx="1791.6" cy="944.3" r="3.7"/><circle cx="1778.6" cy="923.0" r="3.7"/><circle cx="1766.9" cy="935.5" r="3.7"/><circle cx="1775.9" cy="943.5" r="3.7"/><circle cx="1769.3" cy="949.2" r="3.7"/><circle cx="1774.5" cy="948.5" r="3.7"/><circle cx="1796.6" cy="942.9" r="3.7"/><circle cx="1768.9" cy="943.7" r="3.7"/><circle cx="1777.7" cy="916.0" r="3.7"/><circle cx="1787.0" cy="952.1" r="3.7"/><circle cx="1778.5" cy="951.6" r="3.7"/><circle cx="1788.0" cy="942.8" r="3.7"/><circle cx="1762.6" cy="938.8" r="3.7"/><circle cx="1777.8" cy="956.1" r="3.7"/><circle cx="1778.4" cy="912.5" r="3.7"/><circle cx="1780.1" cy="943.2" r="3.7"/></g>
<g fill="#86d0ee" fill-opacity="0.55" stroke="#58bfe8" stroke-opacity="0.6" stroke-width="1.2"><circle cx="1834.9" cy="919.5" r="3.7"/><circle cx="1837.2" cy="938.5" r="3.7"/><circle cx="1845.9" cy="943.5" r="3.7"/><circle cx="1837.1" cy="950.4" r="3.7"/><circle cx="1837.6" cy="945.5" r="3.7"/><circle cx="1832.4" cy="937.6" r="3.7"/><circle cx="1848.1" cy="932.6" r="3.7"/><circle cx="1832.0" cy="926.3" r="3.7"/><circle cx="1822.8" cy="937.1" r="3.7"/><circle cx="1825.5" cy="931.1" r="3.7"/><circle cx="1850.9" cy="937.2" r="3.7"/><circle cx="1818.9" cy="937.8" r="3.7"/><circle cx="1855.4" cy="937.2" r="3.7"/><circle cx="1841.5" cy="944.3" r="3.7"/><circle cx="1839.3" cy="920.4" r="3.7"/><circle cx="1844.0" cy="930.6" r="3.7"/><circle cx="1842.3" cy="939.1" r="3.7"/><circle cx="1830.1" cy="932.1" r="3.7"/><circle cx="1836.6" cy="911.5" r="3.7"/><circle cx="1845.8" cy="937.0" r="3.7"/><circle cx="1838.6" cy="933.1" r="3.7"/><circle cx="1836.0" cy="908.0" r="3.7"/><circle cx="1849.8" cy="944.2" r="3.7"/><circle cx="1821.8" cy="931.3" r="3.7"/><circle cx="1847.7" cy="925.7" r="3.7"/><circle cx="1842.6" cy="950.8" r="3.7"/><circle cx="1831.5" cy="950.3" r="3.7"/><circle cx="1834.5" cy="930.4" r="3.7"/><circle cx="1825.2" cy="924.6" r="3.7"/><circle cx="1843.1" cy="920.4" r="3.7"/><circle cx="1828.8" cy="944.5" r="3.7"/><circle cx="1842.4" cy="925.1" r="3.7"/><circle cx="1827.9" cy="938.1" r="3.7"/><circle cx="1854.0" cy="945.6" r="3.7"/><circle cx="1832.3" cy="944.3" r="3.7"/><circle cx="1852.6" cy="932.3" r="3.7"/><circle cx="1824.6" cy="944.5" r="3.7"/><circle cx="1836.8" cy="924.0" r="3.7"/><circle cx="1830.6" cy="918.4" r="3.7"/><circle cx="1836.6" cy="915.0" r="3.7"/><circle cx="1820.4" cy="943.3" r="3.7"/></g>
<path d="M1597 931V944.6M1587.5 931H1606.5M1587.5 944.6H1606.5" stroke="#000" stroke-width="3" fill="none"/>
<rect x="1592.3" y="933.3" width="9.4" height="10" fill="#000"/>
<path d="M1657.9 938.5V949M1648.4 938.5H1667.4M1648.4 949H1667.4" stroke="#000" stroke-width="3" fill="none"/>
<rect x="1653.2" y="939" width="9.4" height="10" fill="#000"/>
<path d="M1716.9 940.8V949M1707.4 940.8H1726.4M1707.4 949H1726.4" stroke="#000" stroke-width="3" fill="none"/>
<rect x="1712.2" y="940.3" width="9.4" height="10" fill="#000"/>
<path d="M1778.4 925V953.6M1768.9 925H1787.9M1768.9 953.6H1787.9" stroke="#000" stroke-width="3" fill="none"/>
<rect x="1773.7" y="934" width="9.4" height="10" fill="#000"/>
<path d="M1837 922V946.9M1827.5 922H1846.5M1827.5 946.9H1846.5" stroke="#000" stroke-width="3" fill="none"/>
<rect x="1832.3" y="929.4" width="9.4" height="10" fill="#000"/>
<path d="M1530.5 841.8H1535" stroke="#1c1c1c" stroke-width="1.8"/>
<text x="1528.0" y="849.3" font-size="21" font-weight="bold" fill="#000" text-anchor="end" >30</text>
<path d="M1530.5 883.6H1535" stroke="#1c1c1c" stroke-width="1.8"/>
<text x="1528.0" y="891.1" font-size="21" font-weight="bold" fill="#000" text-anchor="end" >20</text>
<path d="M1530.5 924.5H1535" stroke="#1c1c1c" stroke-width="1.8"/>
<text x="1528.0" y="932.0" font-size="21" font-weight="bold" fill="#000" text-anchor="end" >10</text>
<path d="M1530.5 966.8H1535" stroke="#1c1c1c" stroke-width="1.8"/>
<text x="1528.0" y="974.3" font-size="21" font-weight="bold" fill="#000" text-anchor="end" >0</text>
<path d="M1597 964V968" stroke="#1c1c1c" stroke-width="1.8"/>
<text x="1594.5" y="986.5" font-size="21.3" font-weight="bold" fill="#000" text-anchor="middle" >10</text>
<path d="M1658 964V968" stroke="#1c1c1c" stroke-width="1.8"/>
<text x="1656.0" y="986.5" font-size="21.3" font-weight="bold" fill="#000" text-anchor="middle" >8</text>
<path d="M1717 964V968" stroke="#1c1c1c" stroke-width="1.8"/>
<text x="1717.0" y="986.5" font-size="21.3" font-weight="bold" fill="#000" text-anchor="middle" >5</text>
<path d="M1778 964V968" stroke="#1c1c1c" stroke-width="1.8"/>
<text x="1775.5" y="986.5" font-size="21.3" font-weight="bold" fill="#000" text-anchor="middle" >3</text>
<path d="M1837 964V968" stroke="#1c1c1c" stroke-width="1.8"/>
<text x="1836.0" y="986.5" font-size="21.3" font-weight="bold" fill="#000" text-anchor="middle" >2</text>
<rect x="1108" y="1024.5" width="360" height="132.5" fill="#fff" stroke="#1c1c1c" stroke-width="2"/>
<g fill="#efe88a" fill-opacity="0.2" stroke="#e6dc62" stroke-opacity="0.85" stroke-width="1.4"><circle cx="1182.6" cy="1088.7" r="3.3"/><circle cx="1177.7" cy="1099.5" r="3.3"/><circle cx="1149.1" cy="1086.8" r="3.3"/><circle cx="1163.3" cy="1106.6" r="3.3"/><circle cx="1144.5" cy="1082.6" r="3.3"/><circle cx="1160.1" cy="1101.0" r="3.3"/><circle cx="1176.9" cy="1088.6" r="3.3"/><circle cx="1156.3" cy="1094.6" r="3.3"/><circle cx="1170.9" cy="1076.8" r="3.3"/><circle cx="1161.0" cy="1075.6" r="3.3"/><circle cx="1170.8" cy="1093.1" r="3.3"/><circle cx="1187.0" cy="1081.2" r="3.3"/><circle cx="1166.4" cy="1088.5" r="3.3"/><circle cx="1168.7" cy="1104.4" r="3.3"/><circle cx="1192.9" cy="1083.3" r="3.3"/><circle cx="1155.0" cy="1088.6" r="3.3"/><circle cx="1161.4" cy="1094.3" r="3.3"/><circle cx="1171.1" cy="1087.9" r="3.3"/><circle cx="1165.8" cy="1083.0" r="3.3"/><circle cx="1175.7" cy="1092.7" r="3.3"/><circle cx="1160.7" cy="1089.2" r="3.3"/><circle cx="1174.1" cy="1105.2" r="3.3"/><circle cx="1182.4" cy="1082.8" r="3.3"/><circle cx="1176.3" cy="1075.1" r="3.3"/><circle cx="1164.2" cy="1098.3" r="3.3"/><circle cx="1168.1" cy="1098.4" r="3.3"/><circle cx="1166.2" cy="1110.8" r="3.3"/><circle cx="1171.7" cy="1081.2" r="3.3"/><circle cx="1166.2" cy="1077.3" r="3.3"/><circle cx="1165.4" cy="1093.5" r="3.3"/><circle cx="1171.1" cy="1112.7" r="3.3"/><circle cx="1168.3" cy="1067.6" r="3.3"/><circle cx="1188.1" cy="1088.1" r="3.3"/><circle cx="1181.3" cy="1094.5" r="3.3"/><circle cx="1177.1" cy="1082.2" r="3.3"/><circle cx="1173.5" cy="1099.2" r="3.3"/><circle cx="1155.1" cy="1081.0" r="3.3"/><circle cx="1160.5" cy="1081.6" r="3.3"/><circle cx="1149.5" cy="1082.4" r="3.3"/></g>
<g fill="#c3c7e2" fill-opacity="0.2" stroke="#aeb3d6" stroke-opacity="0.85" stroke-width="1.4"><circle cx="1225.4" cy="1091.6" r="3.3"/><circle cx="1236.0" cy="1104.6" r="3.3"/><circle cx="1235.0" cy="1081.9" r="3.3"/><circle cx="1239.6" cy="1080.3" r="3.3"/><circle cx="1230.1" cy="1092.0" r="3.3"/><circle cx="1224.7" cy="1109.8" r="3.3"/><circle cx="1230.0" cy="1081.4" r="3.3"/><circle cx="1211.5" cy="1086.3" r="3.3"/><circle cx="1236.0" cy="1097.6" r="3.3"/><circle cx="1247.1" cy="1093.5" r="3.3"/><circle cx="1230.5" cy="1104.5" r="3.3"/><circle cx="1221.2" cy="1081.5" r="3.3"/><circle cx="1230.6" cy="1099.7" r="3.3"/><circle cx="1215.5" cy="1099.8" r="3.3"/><circle cx="1208.8" cy="1091.5" r="3.3"/><circle cx="1233.1" cy="1088.1" r="3.3"/><circle cx="1238.9" cy="1086.4" r="3.3"/><circle cx="1253.0" cy="1092.7" r="3.3"/><circle cx="1223.3" cy="1085.6" r="3.3"/><circle cx="1214.4" cy="1105.0" r="3.3"/><circle cx="1214.7" cy="1092.2" r="3.3"/><circle cx="1244.4" cy="1086.7" r="3.3"/><circle cx="1231.8" cy="1111.7" r="3.3"/><circle cx="1209.1" cy="1098.4" r="3.3"/><circle cx="1228.3" cy="1087.1" r="3.3"/><circle cx="1227.6" cy="1110.1" r="3.3"/><circle cx="1217.8" cy="1087.8" r="3.3"/><circle cx="1216.5" cy="1082.0" r="3.3"/><circle cx="1236.8" cy="1093.3" r="3.3"/><circle cx="1225.0" cy="1106.0" r="3.3"/><circle cx="1225.4" cy="1080.6" r="3.3"/><circle cx="1219.7" cy="1104.5" r="3.3"/><circle cx="1242.0" cy="1091.7" r="3.3"/><circle cx="1242.5" cy="1105.1" r="3.3"/><circle cx="1241.4" cy="1099.3" r="3.3"/><circle cx="1220.3" cy="1098.3" r="3.3"/><circle cx="1225.5" cy="1098.9" r="3.3"/><circle cx="1219.7" cy="1091.9" r="3.3"/><circle cx="1245.8" cy="1098.8" r="3.3"/><circle cx="1203.3" cy="1092.7" r="3.3"/></g>
<g fill="#f1ceb0" fill-opacity="0.2" stroke="#eabb92" stroke-opacity="0.85" stroke-width="1.4"><circle cx="1266.5" cy="1081.4" r="3.3"/><circle cx="1272.8" cy="1092.4" r="3.3"/><circle cx="1281.7" cy="1082.2" r="3.3"/><circle cx="1263.1" cy="1087.0" r="3.3"/><circle cx="1275.7" cy="1087.3" r="3.3"/><circle cx="1283.6" cy="1100.9" r="3.3"/><circle cx="1276.7" cy="1082.6" r="3.3"/><circle cx="1257.7" cy="1080.8" r="3.3"/><circle cx="1287.1" cy="1119.5" r="3.3"/><circle cx="1298.6" cy="1092.9" r="3.3"/><circle cx="1285.3" cy="1081.9" r="3.3"/><circle cx="1272.1" cy="1080.7" r="3.3"/><circle cx="1314.1" cy="1080.8" r="3.3"/><circle cx="1287.5" cy="1087.5" r="3.3"/><circle cx="1299.3" cy="1081.4" r="3.3"/><circle cx="1283.3" cy="1087.9" r="3.3"/><circle cx="1316.1" cy="1086.6" r="3.3"/><circle cx="1281.7" cy="1074.7" r="3.3"/><circle cx="1298.0" cy="1076.1" r="3.3"/><circle cx="1307.7" cy="1093.6" r="3.3"/><circle cx="1268.4" cy="1093.8" r="3.3"/><circle cx="1288.8" cy="1110.7" r="3.3"/><circle cx="1292.2" cy="1099.7" r="3.3"/><circle cx="1290.1" cy="1075.1" r="3.3"/><circle cx="1267.1" cy="1088.1" r="3.3"/><circle cx="1294.8" cy="1080.8" r="3.3"/><circle cx="1291.0" cy="1080.3" r="3.3"/><circle cx="1303.8" cy="1082.0" r="3.3"/><circle cx="1291.7" cy="1088.2" r="3.3"/><circle cx="1277.2" cy="1094.7" r="3.3"/><circle cx="1311.8" cy="1086.6" r="3.3"/><circle cx="1308.5" cy="1081.8" r="3.3"/><circle cx="1288.3" cy="1068.0" r="3.3"/><circle cx="1290.4" cy="1095.1" r="3.3"/><circle cx="1262.2" cy="1081.9" r="3.3"/><circle cx="1318.2" cy="1081.5" r="3.3"/><circle cx="1271.6" cy="1087.6" r="3.3"/><circle cx="1285.3" cy="1093.8" r="3.3"/><circle cx="1273.9" cy="1073.9" r="3.3"/><circle cx="1259.1" cy="1086.5" r="3.3"/><circle cx="1287.6" cy="1099.5" r="3.3"/><circle cx="1301.7" cy="1074.9" r="3.3"/><circle cx="1308.1" cy="1087.8" r="3.3"/><circle cx="1293.9" cy="1073.7" r="3.3"/><circle cx="1286.1" cy="1073.7" r="3.3"/><circle cx="1294.0" cy="1093.9" r="3.3"/><circle cx="1296.4" cy="1088.3" r="3.3"/><circle cx="1277.7" cy="1074.1" r="3.3"/><circle cx="1304.8" cy="1086.3" r="3.3"/><circle cx="1303.9" cy="1095.0" r="3.3"/><circle cx="1300.5" cy="1087.1" r="3.3"/><circle cx="1281.2" cy="1095.0" r="3.3"/><circle cx="1280.3" cy="1088.1" r="3.3"/></g>
<g fill="#de6a74" fill-opacity="0.2" stroke="#d64856" stroke-opacity="0.85" stroke-width="1.4"><circle cx="1345.9" cy="1059.8" r="3.3"/><circle cx="1367.3" cy="1099.6" r="3.3"/><circle cx="1348.5" cy="1069.9" r="3.3"/><circle cx="1359.6" cy="1085.3" r="3.3"/><circle cx="1339.0" cy="1075.2" r="3.3"/><circle cx="1352.0" cy="1083.3" r="3.3"/><circle cx="1337.5" cy="1093.1" r="3.3"/><circle cx="1344.6" cy="1085.1" r="3.3"/><circle cx="1344.9" cy="1091.0" r="3.3"/><circle cx="1360.8" cy="1099.1" r="3.3"/><circle cx="1323.8" cy="1092.9" r="3.3"/><circle cx="1355.0" cy="1102.1" r="3.3"/><circle cx="1333.4" cy="1075.6" r="3.3"/><circle cx="1330.1" cy="1086.0" r="3.3"/><circle cx="1352.3" cy="1091.9" r="3.3"/><circle cx="1366.8" cy="1086.5" r="3.3"/><circle cx="1352.0" cy="1077.5" r="3.3"/><circle cx="1373.4" cy="1084.9" r="3.3"/><circle cx="1338.9" cy="1106.5" r="3.3"/><circle cx="1351.0" cy="1114.1" r="3.3"/><circle cx="1339.4" cy="1068.6" r="3.3"/><circle cx="1351.3" cy="1059.0" r="3.3"/><circle cx="1348.0" cy="1099.9" r="3.3"/><circle cx="1338.1" cy="1084.7" r="3.3"/><circle cx="1345.1" cy="1107.6" r="3.3"/><circle cx="1346.2" cy="1077.9" r="3.3"/><circle cx="1331.7" cy="1091.9" r="3.3"/><circle cx="1365.7" cy="1093.0" r="3.3"/><circle cx="1359.3" cy="1109.4" r="3.3"/><circle cx="1346.1" cy="1116.9" r="3.3"/><circle cx="1335.4" cy="1098.8" r="3.3"/><circle cx="1352.4" cy="1108.1" r="3.3"/><circle cx="1372.4" cy="1091.1" r="3.3"/><circle cx="1329.2" cy="1101.4" r="3.3"/><circle cx="1357.1" cy="1077.6" r="3.3"/><circle cx="1363.5" cy="1077.8" r="3.3"/><circle cx="1341.8" cy="1099.5" r="3.3"/><circle cx="1357.4" cy="1067.7" r="3.3"/><circle cx="1323.6" cy="1085.0" r="3.3"/><circle cx="1358.9" cy="1092.7" r="3.3"/></g>
<g fill="#86d0ee" fill-opacity="0.2" stroke="#58bfe8" stroke-opacity="0.85" stroke-width="1.4"><circle cx="1424.9" cy="1104.3" r="3.3"/><circle cx="1408.6" cy="1087.3" r="3.3"/><circle cx="1428.9" cy="1084.8" r="3.3"/><circle cx="1393.4" cy="1102.7" r="3.3"/><circle cx="1399.8" cy="1111.1" r="3.3"/><circle cx="1408.4" cy="1119.6" r="3.3"/><circle cx="1417.9" cy="1111.4" r="3.3"/><circle cx="1413.7" cy="1075.6" r="3.3"/><circle cx="1403.1" cy="1085.8" r="3.3"/><circle cx="1416.7" cy="1094.7" r="3.3"/><circle cx="1389.8" cy="1087.0" r="3.3"/><circle cx="1412.4" cy="1112.2" r="3.3"/><circle cx="1399.9" cy="1104.6" r="3.3"/><circle cx="1398.8" cy="1078.8" r="3.3"/><circle cx="1419.2" cy="1078.4" r="3.3"/><circle cx="1393.8" cy="1093.0" r="3.3"/><circle cx="1416.7" cy="1067.1" r="3.3"/><circle cx="1396.5" cy="1087.4" r="3.3"/><circle cx="1421.6" cy="1086.8" r="3.3"/><circle cx="1400.9" cy="1066.5" r="3.3"/><circle cx="1416.1" cy="1083.8" r="3.3"/><circle cx="1401.2" cy="1120.9" r="3.3"/><circle cx="1408.5" cy="1039.0" r="3.3"/><circle cx="1401.7" cy="1095.1" r="3.3"/><circle cx="1402.4" cy="1129.7" r="3.3"/><circle cx="1409.3" cy="1139.5" r="3.3"/><circle cx="1408.5" cy="1069.3" r="3.3"/><circle cx="1404.2" cy="1076.7" r="3.3"/><circle cx="1408.8" cy="1075.9" r="3.3"/><circle cx="1405.5" cy="1113.3" r="3.3"/><circle cx="1386.7" cy="1094.4" r="3.3"/><circle cx="1408.8" cy="1151.5" r="3.3"/><circle cx="1408.6" cy="1130.9" r="3.3"/><circle cx="1411.5" cy="1102.2" r="3.3"/><circle cx="1417.3" cy="1119.1" r="3.3"/><circle cx="1424.3" cy="1092.9" r="3.3"/><circle cx="1415.2" cy="1132.1" r="3.3"/><circle cx="1431.2" cy="1096.3" r="3.3"/><circle cx="1408.3" cy="1095.3" r="3.3"/><circle cx="1417.9" cy="1102.7" r="3.3"/><circle cx="1405.4" cy="1103.5" r="3.3"/></g>
<path d="M1168.5 1080V1099M1159.0 1080H1178.0M1159.0 1099H1178.0" stroke="#000" stroke-width="3" fill="none"/>
<rect x="1163.8" y="1084.5" width="9.4" height="10" fill="#000"/>
<path d="M1228 1086.5V1101M1218.5 1086.5H1237.5M1218.5 1101H1237.5" stroke="#000" stroke-width="3" fill="none"/>
<rect x="1223.3" y="1089" width="9.4" height="10" fill="#000"/>
<path d="M1288 1082V1100M1278.5 1082H1297.5M1278.5 1100H1297.5" stroke="#000" stroke-width="3" fill="none"/>
<rect x="1283.3" y="1086" width="9.4" height="10" fill="#000"/>
<path d="M1348.5 1077V1103M1339.0 1077H1358.0M1339.0 1103H1358.0" stroke="#000" stroke-width="3" fill="none"/>
<rect x="1343.8" y="1085" width="9.4" height="10" fill="#000"/>
<path d="M1409 1078V1122M1399.5 1078H1418.5M1399.5 1122H1418.5" stroke="#000" stroke-width="3" fill="none"/>
<rect x="1404.3" y="1095" width="9.4" height="10" fill="#000"/>
<path d="M1103.5 1026.5H1108" stroke="#1c1c1c" stroke-width="1.8"/>
<text x="1101.5" y="1034.0" font-size="21" font-weight="bold" fill="#000" text-anchor="end" >1.5</text>
<path d="M1103.5 1091H1108" stroke="#1c1c1c" stroke-width="1.8"/>
<text x="1101.5" y="1098.5" font-size="21" font-weight="bold" fill="#000" text-anchor="end" >1.0</text>
<path d="M1103.5 1155H1108" stroke="#1c1c1c" stroke-width="1.8"/>
<text x="1101.5" y="1162.5" font-size="21" font-weight="bold" fill="#000" text-anchor="end" >0.5</text>
<path d="M1168 1157V1161" stroke="#1c1c1c" stroke-width="1.8"/>
<text x="1165.0" y="1180" font-size="21.3" font-weight="bold" fill="#000" text-anchor="middle" >10</text>
<path d="M1228 1157V1161" stroke="#1c1c1c" stroke-width="1.8"/>
<text x="1228.5" y="1180" font-size="21.3" font-weight="bold" fill="#000" text-anchor="middle" >8</text>
<path d="M1287.5 1157V1161" stroke="#1c1c1c" stroke-width="1.8"/>
<text x="1290.0" y="1180" font-size="21.3" font-weight="bold" fill="#000" text-anchor="middle" >5</text>
<path d="M1348 1157V1161" stroke="#1c1c1c" stroke-width="1.8"/>
<text x="1348.0" y="1180" font-size="21.3" font-weight="bold" fill="#000" text-anchor="middle" >3</text>
<path d="M1408 1157V1161" stroke="#1c1c1c" stroke-width="1.8"/>
<text x="1408.0" y="1180" font-size="21.3" font-weight="bold" fill="#000" text-anchor="middle" >2</text>
<text x="-1.1" font-size="22" font-weight="bold" fill="#000" textLength="111.2" lengthAdjust="spacingAndGlyphs" transform="translate(1052,1141) rotate(-90)" >Roundness</text>
<rect x="1534" y="1024" width="359.5" height="132.5" fill="#fff" stroke="#1c1c1c" stroke-width="2"/>
<g fill="#efe88a" fill-opacity="0.2" stroke="#e6dc62" stroke-opacity="0.85" stroke-width="1.4"><circle cx="1591.1" cy="1084.0" r="3.3"/><circle cx="1609.1" cy="1102.4" r="3.3"/><circle cx="1572.8" cy="1089.4" r="3.3"/><circle cx="1596.9" cy="1112.5" r="3.3"/><circle cx="1593.8" cy="1101.7" r="3.3"/><circle cx="1601.5" cy="1106.1" r="3.3"/><circle cx="1605.1" cy="1080.3" r="3.3"/><circle cx="1585.5" cy="1096.7" r="3.3"/><circle cx="1587.8" cy="1091.0" r="3.3"/><circle cx="1601.5" cy="1084.6" r="3.3"/><circle cx="1585.2" cy="1106.6" r="3.3"/><circle cx="1568.0" cy="1095.2" r="3.3"/><circle cx="1596.3" cy="1095.7" r="3.3"/><circle cx="1589.8" cy="1112.5" r="3.3"/><circle cx="1593.4" cy="1090.5" r="3.3"/><circle cx="1596.3" cy="1083.7" r="3.3"/><circle cx="1614.0" cy="1097.0" r="3.3"/><circle cx="1599.9" cy="1079.9" r="3.3"/><circle cx="1593.4" cy="1070.0" r="3.3"/><circle cx="1602.4" cy="1095.3" r="3.3"/><circle cx="1591.2" cy="1096.1" r="3.3"/><circle cx="1578.5" cy="1096.9" r="3.3"/><circle cx="1578.5" cy="1102.3" r="3.3"/><circle cx="1619.7" cy="1095.0" r="3.3"/><circle cx="1598.9" cy="1090.3" r="3.3"/><circle cx="1594.0" cy="1112.4" r="3.3"/><circle cx="1606.8" cy="1084.2" r="3.3"/><circle cx="1593.2" cy="1108.1" r="3.3"/><circle cx="1586.8" cy="1080.2" r="3.3"/><circle cx="1579.4" cy="1084.5" r="3.3"/><circle cx="1572.8" cy="1095.4" r="3.3"/><circle cx="1604.0" cy="1100.9" r="3.3"/><circle cx="1583.3" cy="1089.2" r="3.3"/><circle cx="1583.5" cy="1100.5" r="3.3"/><circle cx="1581.8" cy="1080.1" r="3.3"/><circle cx="1608.8" cy="1089.5" r="3.3"/><circle cx="1593.9" cy="1077.8" r="3.3"/><circle cx="1604.0" cy="1089.4" r="3.3"/><circle cx="1614.3" cy="1089.8" r="3.3"/><circle cx="1585.4" cy="1085.2" r="3.3"/><circle cx="1577.6" cy="1089.0" r="3.3"/><circle cx="1598.9" cy="1101.8" r="3.3"/><circle cx="1587.9" cy="1101.8" r="3.3"/><circle cx="1608.0" cy="1095.7" r="3.3"/></g>
<g fill="#c3c7e2" fill-opacity="0.2" stroke="#aeb3d6" stroke-opacity="0.85" stroke-width="1.4"><circle cx="1648.0" cy="1080.1" r="3.3"/><circle cx="1650.4" cy="1085.5" r="3.3"/><circle cx="1657.8" cy="1066.9" r="3.3"/><circle cx="1628.0" cy="1089.9" r="3.3"/><circle cx="1647.3" cy="1095.2" r="3.3"/><circle cx="1657.1" cy="1100.3" r="3.3"/><circle cx="1664.6" cy="1077.9" r="3.3"/><circle cx="1643.7" cy="1101.1" r="3.3"/><circle cx="1628.4" cy="1095.5" r="3.3"/><circle cx="1656.1" cy="1110.8" r="3.3"/><circle cx="1655.4" cy="1063.3" r="3.3"/><circle cx="1635.5" cy="1089.8" r="3.3"/><circle cx="1653.6" cy="1093.4" r="3.3"/><circle cx="1636.4" cy="1079.7" r="3.3"/><circle cx="1662.6" cy="1084.5" r="3.3"/><circle cx="1678.3" cy="1089.4" r="3.3"/><circle cx="1659.9" cy="1095.0" r="3.3"/><circle cx="1639.7" cy="1104.4" r="3.3"/><circle cx="1636.9" cy="1083.1" r="3.3"/><circle cx="1662.8" cy="1101.5" r="3.3"/><circle cx="1644.0" cy="1084.8" r="3.3"/><circle cx="1664.7" cy="1072.9" r="3.3"/><circle cx="1646.7" cy="1106.1" r="3.3"/><circle cx="1631.9" cy="1099.6" r="3.3"/><circle cx="1663.5" cy="1090.5" r="3.3"/><circle cx="1668.9" cy="1100.7" r="3.3"/><circle cx="1642.8" cy="1073.3" r="3.3"/><circle cx="1649.9" cy="1111.1" r="3.3"/><circle cx="1653.3" cy="1106.3" r="3.3"/><circle cx="1669.4" cy="1085.1" r="3.3"/><circle cx="1652.1" cy="1063.8" r="3.3"/><circle cx="1642.8" cy="1088.3" r="3.3"/><circle cx="1630.9" cy="1083.3" r="3.3"/><circle cx="1665.8" cy="1094.9" r="3.3"/><circle cx="1641.4" cy="1095.7" r="3.3"/><circle cx="1638.8" cy="1098.8" r="3.3"/><circle cx="1656.5" cy="1073.7" r="3.3"/><circle cx="1658.9" cy="1077.6" r="3.3"/><circle cx="1671.9" cy="1088.8" r="3.3"/><circle cx="1676.6" cy="1085.3" r="3.3"/><circle cx="1649.7" cy="1089.5" r="3.3"/><circle cx="1678.1" cy="1095.0" r="3.3"/><circle cx="1667.3" cy="1104.3" r="3.3"/><circle cx="1634.5" cy="1096.0" r="3.3"/><circle cx="1650.6" cy="1073.6" r="3.3"/><circle cx="1650.6" cy="1099.6" r="3.3"/><circle cx="1649.5" cy="1067.9" r="3.3"/><circle cx="1672.7" cy="1093.5" r="3.3"/><circle cx="1642.6" cy="1079.6" r="3.3"/><circle cx="1656.9" cy="1084.1" r="3.3"/><circle cx="1670.9" cy="1078.8" r="3.3"/><circle cx="1674.8" cy="1100.6" r="3.3"/><circle cx="1660.6" cy="1105.4" r="3.3"/><circle cx="1656.4" cy="1090.1" r="3.3"/><circle cx="1653.1" cy="1079.5" r="3.3"/></g>
<g fill="#f1ceb0" fill-opacity="0.2" stroke="#eabb92" stroke-opacity="0.85" stroke-width="1.4"><circle cx="1701.8" cy="1085.7" r="3.3"/><circle cx="1717.9" cy="1113.4" r="3.3"/><circle cx="1694.7" cy="1084.6" r="3.3"/><circle cx="1690.0" cy="1092.8" r="3.3"/><circle cx="1717.9" cy="1100.3" r="3.3"/><circle cx="1711.1" cy="1120.0" r="3.3"/><circle cx="1712.0" cy="1064.3" r="3.3"/><circle cx="1696.5" cy="1091.2" r="3.3"/><circle cx="1709.1" cy="1085.0" r="3.3"/><circle cx="1716.4" cy="1071.0" r="3.3"/><circle cx="1717.7" cy="1077.3" r="3.3"/><circle cx="1712.3" cy="1097.3" r="3.3"/><circle cx="1719.5" cy="1107.0" r="3.3"/><circle cx="1692.9" cy="1097.5" r="3.3"/><circle cx="1706.5" cy="1063.3" r="3.3"/><circle cx="1687.5" cy="1100.0" r="3.3"/><circle cx="1700.1" cy="1098.6" r="3.3"/><circle cx="1706.1" cy="1098.0" r="3.3"/><circle cx="1721.6" cy="1086.5" r="3.3"/><circle cx="1724.3" cy="1099.0" r="3.3"/><circle cx="1703.0" cy="1093.0" r="3.3"/><circle cx="1714.5" cy="1105.0" r="3.3"/><circle cx="1706.9" cy="1078.7" r="3.3"/><circle cx="1722.7" cy="1079.6" r="3.3"/><circle cx="1733.3" cy="1091.2" r="3.3"/><circle cx="1727.7" cy="1093.4" r="3.3"/><circle cx="1721.2" cy="1092.0" r="3.3"/><circle cx="1736.9" cy="1099.8" r="3.3"/><circle cx="1700.8" cy="1077.0" r="3.3"/><circle cx="1715.4" cy="1086.0" r="3.3"/><circle cx="1705.6" cy="1112.2" r="3.3"/><circle cx="1708.6" cy="1092.4" r="3.3"/><circle cx="1717.5" cy="1065.0" r="3.3"/><circle cx="1711.5" cy="1077.8" r="3.3"/><circle cx="1729.7" cy="1085.6" r="3.3"/><circle cx="1709.7" cy="1104.5" r="3.3"/><circle cx="1715.4" cy="1091.1" r="3.3"/><circle cx="1711.8" cy="1113.0" r="3.3"/><circle cx="1704.0" cy="1105.9" r="3.3"/><circle cx="1730.3" cy="1099.2" r="3.3"/><circle cx="1706.4" cy="1070.9" r="3.3"/></g>
<g fill="#de6a74" fill-opacity="0.2" stroke="#d64856" stroke-opacity="0.85" stroke-width="1.4"><circle cx="1778.6" cy="1093.1" r="3.3"/><circle cx="1790.2" cy="1084.9" r="3.3"/><circle cx="1775.7" cy="1079.5" r="3.3"/><circle cx="1789.3" cy="1100.6" r="3.3"/><circle cx="1782.9" cy="1100.0" r="3.3"/><circle cx="1791.4" cy="1091.9" r="3.3"/><circle cx="1773.1" cy="1072.0" r="3.3"/><circle cx="1763.8" cy="1098.1" r="3.3"/><circle cx="1769.3" cy="1052.5" r="3.3"/><circle cx="1763.9" cy="1078.6" r="3.3"/><circle cx="1777.0" cy="1053.8" r="3.3"/><circle cx="1781.4" cy="1065.7" r="3.3"/><circle cx="1758.0" cy="1078.5" r="3.3"/><circle cx="1756.2" cy="1100.0" r="3.3"/><circle cx="1766.1" cy="1072.9" r="3.3"/><circle cx="1781.2" cy="1111.7" r="3.3"/><circle cx="1775.9" cy="1100.0" r="3.3"/><circle cx="1785.3" cy="1105.6" r="3.3"/><circle cx="1769.8" cy="1087.8" r="3.3"/><circle cx="1781.7" cy="1060.2" r="3.3"/><circle cx="1798.6" cy="1094.2" r="3.3"/><circle cx="1761.0" cy="1106.9" r="3.3"/><circle cx="1754.7" cy="1085.4" r="3.3"/><circle cx="1796.4" cy="1099.6" r="3.3"/><circle cx="1798.1" cy="1087.5" r="3.3"/><circle cx="1766.1" cy="1094.0" r="3.3"/><circle cx="1762.7" cy="1087.8" r="3.3"/><circle cx="1754.4" cy="1091.3" r="3.3"/><circle cx="1767.8" cy="1105.6" r="3.3"/><circle cx="1770.5" cy="1059.6" r="3.3"/><circle cx="1773.5" cy="1112.5" r="3.3"/><circle cx="1759.1" cy="1074.3" r="3.3"/><circle cx="1760.7" cy="1093.8" r="3.3"/><circle cx="1748.0" cy="1092.7" r="3.3"/><circle cx="1750.5" cy="1078.5" r="3.3"/><circle cx="1783.8" cy="1084.9" r="3.3"/><circle cx="1783.1" cy="1080.1" r="3.3"/><circle cx="1776.7" cy="1085.6" r="3.3"/><circle cx="1779.5" cy="1074.7" r="3.3"/><circle cx="1775.5" cy="1060.2" r="3.3"/><circle cx="1786.7" cy="1073.8" r="3.3"/><circle cx="1773.1" cy="1092.7" r="3.3"/><circle cx="1785.8" cy="1093.9" r="3.3"/><circle cx="1789.0" cy="1078.2" r="3.3"/><circle cx="1748.1" cy="1086.0" r="3.3"/><circle cx="1763.8" cy="1059.9" r="3.3"/><circle cx="1769.7" cy="1066.9" r="3.3"/><circle cx="1750.0" cy="1099.6" r="3.3"/><circle cx="1769.5" cy="1100.5" r="3.3"/><circle cx="1772.4" cy="1105.2" r="3.3"/><circle cx="1776.0" cy="1067.9" r="3.3"/><circle cx="1764.9" cy="1112.5" r="3.3"/><circle cx="1764.3" cy="1067.1" r="3.3"/><circle cx="1770.0" cy="1079.7" r="3.3"/><circle cx="1795.6" cy="1079.7" r="3.3"/><circle cx="1779.0" cy="1106.7" r="3.3"/></g>
<g fill="#86d0ee" fill-opacity="0.2" stroke="#58bfe8" stroke-opacity="0.85" stroke-width="1.4"><circle cx="1839.2" cy="1078.8" r="3.3"/><circle cx="1818.2" cy="1091.8" r="3.3"/><circle cx="1842.0" cy="1115.3" r="3.3"/><circle cx="1840.5" cy="1107.1" r="3.3"/><circle cx="1820.3" cy="1102.7" r="3.3"/><circle cx="1828.8" cy="1123.5" r="3.3"/><circle cx="1851.9" cy="1099.6" r="3.3"/><circle cx="1825.8" cy="1067.3" r="3.3"/><circle cx="1813.1" cy="1101.6" r="3.3"/><circle cx="1817.9" cy="1070.0" r="3.3"/><circle cx="1836.6" cy="1083.3" r="3.3"/><circle cx="1845.5" cy="1075.3" r="3.3"/><circle cx="1826.3" cy="1078.5" r="3.3"/><circle cx="1822.7" cy="1086.5" r="3.3"/><circle cx="1846.3" cy="1101.1" r="3.3"/><circle cx="1832.2" cy="1039.0" r="3.3"/><circle cx="1836.9" cy="1061.2" r="3.3"/><circle cx="1836.5" cy="1115.8" r="3.3"/><circle cx="1825.8" cy="1108.0" r="3.3"/><circle cx="1846.8" cy="1094.2" r="3.3"/><circle cx="1825.7" cy="1092.3" r="3.3"/><circle cx="1833.2" cy="1075.2" r="3.3"/><circle cx="1829.7" cy="1085.6" r="3.3"/><circle cx="1843.6" cy="1084.8" r="3.3"/><circle cx="1830.5" cy="1054.9" r="3.3"/><circle cx="1840.4" cy="1094.3" r="3.3"/><circle cx="1833.2" cy="1108.6" r="3.3"/><circle cx="1829.8" cy="1059.2" r="3.3"/><circle cx="1836.1" cy="1051.2" r="3.3"/><circle cx="1833.4" cy="1102.7" r="3.3"/><circle cx="1837.3" cy="1124.4" r="3.3"/><circle cx="1847.0" cy="1070.6" r="3.3"/><circle cx="1830.3" cy="1116.4" r="3.3"/><circle cx="1823.8" cy="1116.4" r="3.3"/><circle cx="1840.7" cy="1071.0" r="3.3"/><circle cx="1832.5" cy="1092.2" r="3.3"/><circle cx="1833.2" cy="1070.8" r="3.3"/><circle cx="1840.0" cy="1100.4" r="3.3"/><circle cx="1826.5" cy="1100.0" r="3.3"/><circle cx="1833.9" cy="1137.0" r="3.3"/><circle cx="1820.4" cy="1078.4" r="3.3"/></g>
<path d="M1593.5 1084V1102M1584.0 1084H1603.0M1584.0 1102H1603.0" stroke="#000" stroke-width="3" fill="none"/>
<rect x="1588.8" y="1088.5" width="9.4" height="10" fill="#000"/>
<path d="M1653.5 1079V1098M1644.0 1079H1663.0M1644.0 1098H1663.0" stroke="#000" stroke-width="3" fill="none"/>
<rect x="1648.8" y="1083.5" width="9.4" height="10" fill="#000"/>
<path d="M1712 1078V1102M1702.5 1078H1721.5M1702.5 1102H1721.5" stroke="#000" stroke-width="3" fill="none"/>
<rect x="1707.3" y="1085" width="9.4" height="10" fill="#000"/>
<path d="M1773 1078.5V1101M1763.5 1078.5H1782.5M1763.5 1101H1782.5" stroke="#000" stroke-width="3" fill="none"/>
<rect x="1768.3" y="1084.5" width="9.4" height="10" fill="#000"/>
<path d="M1833 1069V1107M1823.5 1069H1842.5M1823.5 1107H1842.5" stroke="#000" stroke-width="3" fill="none"/>
<rect x="1828.3" y="1083" width="9.4" height="10" fill="#000"/>
<path d="M1529.5 1026.5H1534" stroke="#1c1c1c" stroke-width="1.8"/>
<text x="1527.0" y="1034.0" font-size="21" font-weight="bold" fill="#000" text-anchor="end" >1.5</text>
<path d="M1529.5 1090H1534" stroke="#1c1c1c" stroke-width="1.8"/>
<text x="1527.0" y="1097.5" font-size="21" font-weight="bold" fill="#000" text-anchor="end" >1.0</text>
<path d="M1529.5 1154.5H1534" stroke="#1c1c1c" stroke-width="1.8"/>
<text x="1527.0" y="1162.0" font-size="21" font-weight="bold" fill="#000" text-anchor="end" >0.5</text>
<path d="M1593 1156.5V1160.5" stroke="#1c1c1c" stroke-width="1.8"/>
<text x="1593.0" y="1180" font-size="21.3" font-weight="bold" fill="#000" text-anchor="middle" >10</text>
<path d="M1653.5 1156.5V1160.5" stroke="#1c1c1c" stroke-width="1.8"/>
<text x="1653.5" y="1180" font-size="21.3" font-weight="bold" fill="#000" text-anchor="middle" >8</text>
<path d="M1714 1156.5V1160.5" stroke="#1c1c1c" stroke-width="1.8"/>
<text x="1714.5" y="1180" font-size="21.3" font-weight="bold" fill="#000" text-anchor="middle" >5</text>
<path d="M1773 1156.5V1160.5" stroke="#1c1c1c" stroke-width="1.8"/>
<text x="1773.0" y="1180" font-size="21.3" font-weight="bold" fill="#000" text-anchor="middle" >3</text>
<path d="M1833 1156.5V1160.5" stroke="#1c1c1c" stroke-width="1.8"/>
<text x="1833.5" y="1180" font-size="21.3" font-weight="bold" fill="#000" text-anchor="middle" >2</text>
<text x="1194.8" y="1223" font-size="23" font-weight="bold" fill="#000" textLength="206.3" lengthAdjust="spacingAndGlyphs" >Pillar diameter (µm)</text>
<text x="1620.3" y="1221.5" font-size="23" font-weight="bold" fill="#000" textLength="205.8" lengthAdjust="spacingAndGlyphs" >Pillar diameter (µm)</text>
</g>
<text x="-2.3" y="32.5" font-size="43" font-weight="bold" fill="#0b1c22" textLength="37.6" lengthAdjust="spacingAndGlyphs" >A</text>
<text x="988.7" y="33" font-size="43" font-weight="bold" fill="#0b1c22" textLength="33.6" lengthAdjust="spacingAndGlyphs" >B</text>
<text x="-1.3" y="598" font-size="43" font-weight="bold" fill="#0b1c22" textLength="33.6" lengthAdjust="spacingAndGlyphs" >C</text>
<text x="988.7" y="599" font-size="43" font-weight="bold" fill="#0b1c22" textLength="33.6" lengthAdjust="spacingAndGlyphs" >D</text>
</svg>
</body>
</html>
